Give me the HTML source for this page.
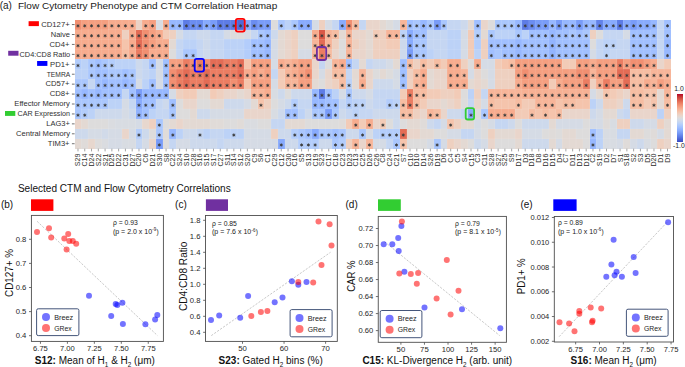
<!DOCTYPE html>
<html><head><meta charset="utf-8"><style>html,body{margin:0;padding:0;background:#fff;width:685px;height:367px;overflow:hidden}svg{display:block}</style></head>
<body><svg width="685" height="367" viewBox="0 0 685 367" font-family="Liberation Sans, sans-serif"><rect width="685" height="367" fill="#fff"/><text x="-0.3" y="9.1" font-size="10" fill="#1a1a1a">(a)</text><text x="18" y="9.1" font-size="9.8" textLength="259.2" lengthAdjust="spacingAndGlyphs" fill="#1a1a1a">Flow Cytometry Phenotype and CTM Correlation Heatmap</text><g shape-rendering="crispEdges"><rect x="74.60" y="19.60" width="6.83" height="9.98" fill="#f18f71"/><rect x="81.38" y="19.60" width="6.83" height="9.98" fill="#f59f80"/><rect x="88.15" y="19.60" width="6.83" height="9.98" fill="#f59f80"/><rect x="94.93" y="19.60" width="6.83" height="9.98" fill="#f59f80"/><rect x="101.70" y="19.60" width="6.83" height="9.98" fill="#f59f80"/><rect x="108.48" y="19.60" width="6.83" height="9.98" fill="#f7ac8e"/><rect x="115.26" y="19.60" width="6.83" height="9.98" fill="#f7ac8e"/><rect x="122.03" y="19.60" width="6.83" height="9.98" fill="#f7ac8e"/><rect x="128.81" y="19.60" width="6.83" height="9.98" fill="#f7ac8e"/><rect x="135.59" y="19.60" width="6.83" height="9.98" fill="#ebd3c6"/><rect x="142.36" y="19.60" width="6.83" height="9.98" fill="#f7ac8e"/><rect x="149.14" y="19.60" width="6.83" height="9.98" fill="#f59f80"/><rect x="155.91" y="19.60" width="6.83" height="9.98" fill="#d8dce2"/><rect x="162.69" y="19.60" width="6.83" height="9.98" fill="#f7ac8e"/><rect x="169.47" y="19.60" width="6.83" height="9.98" fill="#97b8ff"/><rect x="176.24" y="19.60" width="6.83" height="9.98" fill="#97b8ff"/><rect x="183.02" y="19.60" width="6.83" height="9.98" fill="#5d7ce6"/><rect x="189.79" y="19.60" width="6.83" height="9.98" fill="#6b8df0"/><rect x="196.57" y="19.60" width="6.83" height="9.98" fill="#6b8df0"/><rect x="203.35" y="19.60" width="6.83" height="9.98" fill="#88abfd"/><rect x="210.12" y="19.60" width="6.83" height="9.98" fill="#799cf8"/><rect x="216.90" y="19.60" width="6.83" height="9.98" fill="#5d7ce6"/><rect x="223.67" y="19.60" width="6.83" height="9.98" fill="#5d7ce6"/><rect x="230.45" y="19.60" width="6.83" height="9.98" fill="#5d7ce6"/><rect x="237.23" y="19.60" width="6.83" height="9.98" fill="#4f69d9"/><rect x="244.00" y="19.60" width="6.83" height="9.98" fill="#88abfd"/><rect x="250.78" y="19.60" width="6.83" height="9.98" fill="#6b8df0"/><rect x="257.56" y="19.60" width="6.83" height="9.98" fill="#799cf8"/><rect x="264.33" y="19.60" width="6.83" height="9.98" fill="#799cf8"/><rect x="271.11" y="19.60" width="6.83" height="9.98" fill="#dddcdc"/><rect x="277.88" y="19.60" width="6.83" height="9.98" fill="#aac7fd"/><rect x="284.66" y="19.60" width="6.83" height="9.98" fill="#bcd2f7"/><rect x="291.44" y="19.60" width="6.83" height="9.98" fill="#aac7fd"/><rect x="298.21" y="19.60" width="6.83" height="9.98" fill="#88abfd"/><rect x="304.99" y="19.60" width="6.83" height="9.98" fill="#88abfd"/><rect x="311.76" y="19.60" width="6.83" height="9.98" fill="#d5dbe5"/><rect x="318.54" y="19.60" width="6.83" height="9.98" fill="#eed0c0"/><rect x="325.32" y="19.60" width="6.83" height="9.98" fill="#d5dbe5"/><rect x="332.09" y="19.60" width="6.83" height="9.98" fill="#c5d6f2"/><rect x="338.87" y="19.60" width="6.83" height="9.98" fill="#88abfd"/><rect x="345.65" y="19.60" width="6.83" height="9.98" fill="#f18f71"/><rect x="352.42" y="19.60" width="6.83" height="9.98" fill="#f6bda2"/><rect x="359.20" y="19.60" width="6.83" height="9.98" fill="#c5d6f2"/><rect x="365.97" y="19.60" width="6.83" height="9.98" fill="#e9d5cb"/><rect x="372.75" y="19.60" width="6.83" height="9.98" fill="#e9d5cb"/><rect x="379.53" y="19.60" width="6.83" height="9.98" fill="#e3d9d3"/><rect x="386.30" y="19.60" width="6.83" height="9.98" fill="#dddcdc"/><rect x="393.08" y="19.60" width="6.83" height="9.98" fill="#d5dbe5"/><rect x="399.85" y="19.60" width="6.83" height="9.98" fill="#f7b599"/><rect x="406.63" y="19.60" width="6.83" height="9.98" fill="#a1c0ff"/><rect x="413.41" y="19.60" width="6.83" height="9.98" fill="#aac7fd"/><rect x="420.18" y="19.60" width="6.83" height="9.98" fill="#97b8ff"/><rect x="426.96" y="19.60" width="6.83" height="9.98" fill="#aac7fd"/><rect x="433.74" y="19.60" width="6.83" height="9.98" fill="#799cf8"/><rect x="440.51" y="19.60" width="6.83" height="9.98" fill="#aac7fd"/><rect x="447.29" y="19.60" width="6.83" height="9.98" fill="#c5d6f2"/><rect x="454.06" y="19.60" width="6.83" height="9.98" fill="#c5d6f2"/><rect x="460.84" y="19.60" width="6.83" height="9.98" fill="#cdd9ec"/><rect x="467.62" y="19.60" width="6.83" height="9.98" fill="#e3d9d3"/><rect x="474.39" y="19.60" width="6.83" height="9.98" fill="#a1c0ff"/><rect x="481.17" y="19.60" width="6.83" height="9.98" fill="#e9d5cb"/><rect x="487.94" y="19.60" width="6.83" height="9.98" fill="#dddcdc"/><rect x="494.72" y="19.60" width="6.83" height="9.98" fill="#aac7fd"/><rect x="501.50" y="19.60" width="6.83" height="9.98" fill="#aac7fd"/><rect x="508.27" y="19.60" width="6.83" height="9.98" fill="#aac7fd"/><rect x="515.05" y="19.60" width="6.83" height="9.98" fill="#97b8ff"/><rect x="521.82" y="19.60" width="6.83" height="9.98" fill="#5d7ce6"/><rect x="528.60" y="19.60" width="6.83" height="9.98" fill="#6b8df0"/><rect x="535.38" y="19.60" width="6.83" height="9.98" fill="#799cf8"/><rect x="542.15" y="19.60" width="6.83" height="9.98" fill="#799cf8"/><rect x="548.93" y="19.60" width="6.83" height="9.98" fill="#97b8ff"/><rect x="555.71" y="19.60" width="6.83" height="9.98" fill="#799cf8"/><rect x="562.48" y="19.60" width="6.83" height="9.98" fill="#97b8ff"/><rect x="569.26" y="19.60" width="6.83" height="9.98" fill="#97b8ff"/><rect x="576.03" y="19.60" width="6.83" height="9.98" fill="#799cf8"/><rect x="582.81" y="19.60" width="6.83" height="9.98" fill="#97b8ff"/><rect x="589.59" y="19.60" width="6.83" height="9.98" fill="#97b8ff"/><rect x="596.36" y="19.60" width="6.83" height="9.98" fill="#6282ea"/><rect x="603.14" y="19.60" width="6.83" height="9.98" fill="#88abfd"/><rect x="609.91" y="19.60" width="6.83" height="9.98" fill="#88abfd"/><rect x="616.69" y="19.60" width="6.83" height="9.98" fill="#5d7ce6"/><rect x="623.47" y="19.60" width="6.83" height="9.98" fill="#88abfd"/><rect x="630.24" y="19.60" width="6.83" height="9.98" fill="#799cf8"/><rect x="637.02" y="19.60" width="6.83" height="9.98" fill="#88abfd"/><rect x="643.80" y="19.60" width="6.83" height="9.98" fill="#88abfd"/><rect x="650.57" y="19.60" width="6.83" height="9.98" fill="#97b8ff"/><rect x="657.35" y="19.60" width="6.83" height="9.98" fill="#c5d6f2"/><rect x="664.12" y="19.60" width="6.83" height="9.98" fill="#a1c0ff"/><rect x="74.60" y="29.53" width="6.83" height="9.98" fill="#f7ac8e"/><rect x="81.38" y="29.53" width="6.83" height="9.98" fill="#f7ac8e"/><rect x="88.15" y="29.53" width="6.83" height="9.98" fill="#f7ac8e"/><rect x="94.93" y="29.53" width="6.83" height="9.98" fill="#f7ac8e"/><rect x="101.70" y="29.53" width="6.83" height="9.98" fill="#f7ac8e"/><rect x="108.48" y="29.53" width="6.83" height="9.98" fill="#f7ac8e"/><rect x="115.26" y="29.53" width="6.83" height="9.98" fill="#f7ac8e"/><rect x="122.03" y="29.53" width="6.83" height="9.98" fill="#eed0c0"/><rect x="128.81" y="29.53" width="6.83" height="9.98" fill="#f7ac8e"/><rect x="135.59" y="29.53" width="6.83" height="9.98" fill="#e36c55"/><rect x="142.36" y="29.53" width="6.83" height="9.98" fill="#f18f71"/><rect x="149.14" y="29.53" width="6.83" height="9.98" fill="#f59f80"/><rect x="155.91" y="29.53" width="6.83" height="9.98" fill="#f7ac8e"/><rect x="162.69" y="29.53" width="6.83" height="9.98" fill="#f2cbb7"/><rect x="169.47" y="29.53" width="6.83" height="9.98" fill="#eed0c0"/><rect x="176.24" y="29.53" width="6.83" height="9.98" fill="#d5dbe5"/><rect x="183.02" y="29.53" width="6.83" height="9.98" fill="#c5d6f2"/><rect x="189.79" y="29.53" width="6.83" height="9.98" fill="#c5d6f2"/><rect x="196.57" y="29.53" width="6.83" height="9.98" fill="#cdd9ec"/><rect x="203.35" y="29.53" width="6.83" height="9.98" fill="#cdd9ec"/><rect x="210.12" y="29.53" width="6.83" height="9.98" fill="#c5d6f2"/><rect x="216.90" y="29.53" width="6.83" height="9.98" fill="#c5d6f2"/><rect x="223.67" y="29.53" width="6.83" height="9.98" fill="#d5dbe5"/><rect x="230.45" y="29.53" width="6.83" height="9.98" fill="#dddcdc"/><rect x="237.23" y="29.53" width="6.83" height="9.98" fill="#dddcdc"/><rect x="244.00" y="29.53" width="6.83" height="9.98" fill="#d5dbe5"/><rect x="250.78" y="29.53" width="6.83" height="9.98" fill="#c5d6f2"/><rect x="257.56" y="29.53" width="6.83" height="9.98" fill="#aac7fd"/><rect x="264.33" y="29.53" width="6.83" height="9.98" fill="#a1c0ff"/><rect x="271.11" y="29.53" width="6.83" height="9.98" fill="#cdd9ec"/><rect x="277.88" y="29.53" width="6.83" height="9.98" fill="#e3d9d3"/><rect x="284.66" y="29.53" width="6.83" height="9.98" fill="#e9d5cb"/><rect x="291.44" y="29.53" width="6.83" height="9.98" fill="#eed0c0"/><rect x="298.21" y="29.53" width="6.83" height="9.98" fill="#dddcdc"/><rect x="304.99" y="29.53" width="6.83" height="9.98" fill="#dddcdc"/><rect x="311.76" y="29.53" width="6.83" height="9.98" fill="#f7ac8e"/><rect x="318.54" y="29.53" width="6.83" height="9.98" fill="#d95847"/><rect x="325.32" y="29.53" width="6.83" height="9.98" fill="#f7b599"/><rect x="332.09" y="29.53" width="6.83" height="9.98" fill="#f6bda2"/><rect x="338.87" y="29.53" width="6.83" height="9.98" fill="#e3d9d3"/><rect x="345.65" y="29.53" width="6.83" height="9.98" fill="#f7b599"/><rect x="352.42" y="29.53" width="6.83" height="9.98" fill="#e9d5cb"/><rect x="359.20" y="29.53" width="6.83" height="9.98" fill="#e9d5cb"/><rect x="365.97" y="29.53" width="6.83" height="9.98" fill="#e3d9d3"/><rect x="372.75" y="29.53" width="6.83" height="9.98" fill="#f2cbb7"/><rect x="379.53" y="29.53" width="6.83" height="9.98" fill="#eed0c0"/><rect x="386.30" y="29.53" width="6.83" height="9.98" fill="#f7b599"/><rect x="393.08" y="29.53" width="6.83" height="9.98" fill="#f7b599"/><rect x="399.85" y="29.53" width="6.83" height="9.98" fill="#bcd2f7"/><rect x="406.63" y="29.53" width="6.83" height="9.98" fill="#88abfd"/><rect x="413.41" y="29.53" width="6.83" height="9.98" fill="#a1c0ff"/><rect x="420.18" y="29.53" width="6.83" height="9.98" fill="#a1c0ff"/><rect x="426.96" y="29.53" width="6.83" height="9.98" fill="#c5d6f2"/><rect x="433.74" y="29.53" width="6.83" height="9.98" fill="#c5d6f2"/><rect x="440.51" y="29.53" width="6.83" height="9.98" fill="#c5d6f2"/><rect x="447.29" y="29.53" width="6.83" height="9.98" fill="#bcd2f7"/><rect x="454.06" y="29.53" width="6.83" height="9.98" fill="#bcd2f7"/><rect x="460.84" y="29.53" width="6.83" height="9.98" fill="#d5dbe5"/><rect x="467.62" y="29.53" width="6.83" height="9.98" fill="#f2cbb7"/><rect x="474.39" y="29.53" width="6.83" height="9.98" fill="#b3cdfb"/><rect x="481.17" y="29.53" width="6.83" height="9.98" fill="#e3d9d3"/><rect x="487.94" y="29.53" width="6.83" height="9.98" fill="#aac7fd"/><rect x="494.72" y="29.53" width="6.83" height="9.98" fill="#bcd2f7"/><rect x="501.50" y="29.53" width="6.83" height="9.98" fill="#bcd2f7"/><rect x="508.27" y="29.53" width="6.83" height="9.98" fill="#bcd2f7"/><rect x="515.05" y="29.53" width="6.83" height="9.98" fill="#aac7fd"/><rect x="521.82" y="29.53" width="6.83" height="9.98" fill="#bcd2f7"/><rect x="528.60" y="29.53" width="6.83" height="9.98" fill="#a1c0ff"/><rect x="535.38" y="29.53" width="6.83" height="9.98" fill="#a1c0ff"/><rect x="542.15" y="29.53" width="6.83" height="9.98" fill="#a1c0ff"/><rect x="548.93" y="29.53" width="6.83" height="9.98" fill="#97b8ff"/><rect x="555.71" y="29.53" width="6.83" height="9.98" fill="#a1c0ff"/><rect x="562.48" y="29.53" width="6.83" height="9.98" fill="#a1c0ff"/><rect x="569.26" y="29.53" width="6.83" height="9.98" fill="#aac7fd"/><rect x="576.03" y="29.53" width="6.83" height="9.98" fill="#a1c0ff"/><rect x="582.81" y="29.53" width="6.83" height="9.98" fill="#aac7fd"/><rect x="589.59" y="29.53" width="6.83" height="9.98" fill="#eed0c0"/><rect x="596.36" y="29.53" width="6.83" height="9.98" fill="#dddcdc"/><rect x="603.14" y="29.53" width="6.83" height="9.98" fill="#c5d6f2"/><rect x="609.91" y="29.53" width="6.83" height="9.98" fill="#c5d6f2"/><rect x="616.69" y="29.53" width="6.83" height="9.98" fill="#c5d6f2"/><rect x="623.47" y="29.53" width="6.83" height="9.98" fill="#d5dbe5"/><rect x="630.24" y="29.53" width="6.83" height="9.98" fill="#a1c0ff"/><rect x="637.02" y="29.53" width="6.83" height="9.98" fill="#a1c0ff"/><rect x="643.80" y="29.53" width="6.83" height="9.98" fill="#a1c0ff"/><rect x="650.57" y="29.53" width="6.83" height="9.98" fill="#a1c0ff"/><rect x="657.35" y="29.53" width="6.83" height="9.98" fill="#c5d6f2"/><rect x="664.12" y="29.53" width="6.83" height="9.98" fill="#a1c0ff"/><rect x="74.60" y="39.46" width="6.83" height="9.98" fill="#f7ac8e"/><rect x="81.38" y="39.46" width="6.83" height="9.98" fill="#f7ac8e"/><rect x="88.15" y="39.46" width="6.83" height="9.98" fill="#f7ac8e"/><rect x="94.93" y="39.46" width="6.83" height="9.98" fill="#f7ac8e"/><rect x="101.70" y="39.46" width="6.83" height="9.98" fill="#f7ac8e"/><rect x="108.48" y="39.46" width="6.83" height="9.98" fill="#f7ac8e"/><rect x="115.26" y="39.46" width="6.83" height="9.98" fill="#f7ac8e"/><rect x="122.03" y="39.46" width="6.83" height="9.98" fill="#f5c4ac"/><rect x="128.81" y="39.46" width="6.83" height="9.98" fill="#f7ac8e"/><rect x="135.59" y="39.46" width="6.83" height="9.98" fill="#e36c55"/><rect x="142.36" y="39.46" width="6.83" height="9.98" fill="#f18f71"/><rect x="149.14" y="39.46" width="6.83" height="9.98" fill="#f59f80"/><rect x="155.91" y="39.46" width="6.83" height="9.98" fill="#f7ac8e"/><rect x="162.69" y="39.46" width="6.83" height="9.98" fill="#f7ac8e"/><rect x="169.47" y="39.46" width="6.83" height="9.98" fill="#e3d9d3"/><rect x="176.24" y="39.46" width="6.83" height="9.98" fill="#c5d6f2"/><rect x="183.02" y="39.46" width="6.83" height="9.98" fill="#bcd2f7"/><rect x="189.79" y="39.46" width="6.83" height="9.98" fill="#bcd2f7"/><rect x="196.57" y="39.46" width="6.83" height="9.98" fill="#c5d6f2"/><rect x="203.35" y="39.46" width="6.83" height="9.98" fill="#cdd9ec"/><rect x="210.12" y="39.46" width="6.83" height="9.98" fill="#c5d6f2"/><rect x="216.90" y="39.46" width="6.83" height="9.98" fill="#c5d6f2"/><rect x="223.67" y="39.46" width="6.83" height="9.98" fill="#bcd2f7"/><rect x="230.45" y="39.46" width="6.83" height="9.98" fill="#bcd2f7"/><rect x="237.23" y="39.46" width="6.83" height="9.98" fill="#bcd2f7"/><rect x="244.00" y="39.46" width="6.83" height="9.98" fill="#b3cdfb"/><rect x="250.78" y="39.46" width="6.83" height="9.98" fill="#a1c0ff"/><rect x="257.56" y="39.46" width="6.83" height="9.98" fill="#a1c0ff"/><rect x="264.33" y="39.46" width="6.83" height="9.98" fill="#97b8ff"/><rect x="271.11" y="39.46" width="6.83" height="9.98" fill="#d5dbe5"/><rect x="277.88" y="39.46" width="6.83" height="9.98" fill="#e3d9d3"/><rect x="284.66" y="39.46" width="6.83" height="9.98" fill="#e9d5cb"/><rect x="291.44" y="39.46" width="6.83" height="9.98" fill="#eed0c0"/><rect x="298.21" y="39.46" width="6.83" height="9.98" fill="#dddcdc"/><rect x="304.99" y="39.46" width="6.83" height="9.98" fill="#dddcdc"/><rect x="311.76" y="39.46" width="6.83" height="9.98" fill="#f7b599"/><rect x="318.54" y="39.46" width="6.83" height="9.98" fill="#e36c55"/><rect x="325.32" y="39.46" width="6.83" height="9.98" fill="#f7b599"/><rect x="332.09" y="39.46" width="6.83" height="9.98" fill="#eed0c0"/><rect x="338.87" y="39.46" width="6.83" height="9.98" fill="#dddcdc"/><rect x="345.65" y="39.46" width="6.83" height="9.98" fill="#f7b599"/><rect x="352.42" y="39.46" width="6.83" height="9.98" fill="#eed0c0"/><rect x="359.20" y="39.46" width="6.83" height="9.98" fill="#e9d5cb"/><rect x="365.97" y="39.46" width="6.83" height="9.98" fill="#e3d9d3"/><rect x="372.75" y="39.46" width="6.83" height="9.98" fill="#eed0c0"/><rect x="379.53" y="39.46" width="6.83" height="9.98" fill="#eed0c0"/><rect x="386.30" y="39.46" width="6.83" height="9.98" fill="#f2cbb7"/><rect x="393.08" y="39.46" width="6.83" height="9.98" fill="#f2cbb7"/><rect x="399.85" y="39.46" width="6.83" height="9.98" fill="#cdd9ec"/><rect x="406.63" y="39.46" width="6.83" height="9.98" fill="#88abfd"/><rect x="413.41" y="39.46" width="6.83" height="9.98" fill="#aac7fd"/><rect x="420.18" y="39.46" width="6.83" height="9.98" fill="#aac7fd"/><rect x="426.96" y="39.46" width="6.83" height="9.98" fill="#c5d6f2"/><rect x="433.74" y="39.46" width="6.83" height="9.98" fill="#c5d6f2"/><rect x="440.51" y="39.46" width="6.83" height="9.98" fill="#c5d6f2"/><rect x="447.29" y="39.46" width="6.83" height="9.98" fill="#bcd2f7"/><rect x="454.06" y="39.46" width="6.83" height="9.98" fill="#bcd2f7"/><rect x="460.84" y="39.46" width="6.83" height="9.98" fill="#d5dbe5"/><rect x="467.62" y="39.46" width="6.83" height="9.98" fill="#f2cbb7"/><rect x="474.39" y="39.46" width="6.83" height="9.98" fill="#b3cdfb"/><rect x="481.17" y="39.46" width="6.83" height="9.98" fill="#eed0c0"/><rect x="487.94" y="39.46" width="6.83" height="9.98" fill="#a1c0ff"/><rect x="494.72" y="39.46" width="6.83" height="9.98" fill="#a1c0ff"/><rect x="501.50" y="39.46" width="6.83" height="9.98" fill="#a1c0ff"/><rect x="508.27" y="39.46" width="6.83" height="9.98" fill="#a1c0ff"/><rect x="515.05" y="39.46" width="6.83" height="9.98" fill="#97b8ff"/><rect x="521.82" y="39.46" width="6.83" height="9.98" fill="#a1c0ff"/><rect x="528.60" y="39.46" width="6.83" height="9.98" fill="#a1c0ff"/><rect x="535.38" y="39.46" width="6.83" height="9.98" fill="#a1c0ff"/><rect x="542.15" y="39.46" width="6.83" height="9.98" fill="#a1c0ff"/><rect x="548.93" y="39.46" width="6.83" height="9.98" fill="#92b4fe"/><rect x="555.71" y="39.46" width="6.83" height="9.98" fill="#a1c0ff"/><rect x="562.48" y="39.46" width="6.83" height="9.98" fill="#a1c0ff"/><rect x="569.26" y="39.46" width="6.83" height="9.98" fill="#a1c0ff"/><rect x="576.03" y="39.46" width="6.83" height="9.98" fill="#a1c0ff"/><rect x="582.81" y="39.46" width="6.83" height="9.98" fill="#a1c0ff"/><rect x="589.59" y="39.46" width="6.83" height="9.98" fill="#dddcdc"/><rect x="596.36" y="39.46" width="6.83" height="9.98" fill="#c5d6f2"/><rect x="603.14" y="39.46" width="6.83" height="9.98" fill="#bcd2f7"/><rect x="609.91" y="39.46" width="6.83" height="9.98" fill="#bcd2f7"/><rect x="616.69" y="39.46" width="6.83" height="9.98" fill="#c5d6f2"/><rect x="623.47" y="39.46" width="6.83" height="9.98" fill="#c5d6f2"/><rect x="630.24" y="39.46" width="6.83" height="9.98" fill="#a1c0ff"/><rect x="637.02" y="39.46" width="6.83" height="9.98" fill="#a1c0ff"/><rect x="643.80" y="39.46" width="6.83" height="9.98" fill="#a1c0ff"/><rect x="650.57" y="39.46" width="6.83" height="9.98" fill="#a1c0ff"/><rect x="657.35" y="39.46" width="6.83" height="9.98" fill="#c5d6f2"/><rect x="664.12" y="39.46" width="6.83" height="9.98" fill="#97b8ff"/><rect x="74.60" y="49.39" width="6.83" height="9.98" fill="#f7ac8e"/><rect x="81.38" y="49.39" width="6.83" height="9.98" fill="#f7ac8e"/><rect x="88.15" y="49.39" width="6.83" height="9.98" fill="#f7ac8e"/><rect x="94.93" y="49.39" width="6.83" height="9.98" fill="#f7ac8e"/><rect x="101.70" y="49.39" width="6.83" height="9.98" fill="#f7ac8e"/><rect x="108.48" y="49.39" width="6.83" height="9.98" fill="#f7ac8e"/><rect x="115.26" y="49.39" width="6.83" height="9.98" fill="#f7ac8e"/><rect x="122.03" y="49.39" width="6.83" height="9.98" fill="#f6bda2"/><rect x="128.81" y="49.39" width="6.83" height="9.98" fill="#f7ac8e"/><rect x="135.59" y="49.39" width="6.83" height="9.98" fill="#eb7d62"/><rect x="142.36" y="49.39" width="6.83" height="9.98" fill="#f18f71"/><rect x="149.14" y="49.39" width="6.83" height="9.98" fill="#f7ac8e"/><rect x="155.91" y="49.39" width="6.83" height="9.98" fill="#f7ac8e"/><rect x="162.69" y="49.39" width="6.83" height="9.98" fill="#f7ac8e"/><rect x="169.47" y="49.39" width="6.83" height="9.98" fill="#dddcdc"/><rect x="176.24" y="49.39" width="6.83" height="9.98" fill="#c5d6f2"/><rect x="183.02" y="49.39" width="6.83" height="9.98" fill="#aac7fd"/><rect x="189.79" y="49.39" width="6.83" height="9.98" fill="#aac7fd"/><rect x="196.57" y="49.39" width="6.83" height="9.98" fill="#c5d6f2"/><rect x="203.35" y="49.39" width="6.83" height="9.98" fill="#cdd9ec"/><rect x="210.12" y="49.39" width="6.83" height="9.98" fill="#c5d6f2"/><rect x="216.90" y="49.39" width="6.83" height="9.98" fill="#c5d6f2"/><rect x="223.67" y="49.39" width="6.83" height="9.98" fill="#bcd2f7"/><rect x="230.45" y="49.39" width="6.83" height="9.98" fill="#bcd2f7"/><rect x="237.23" y="49.39" width="6.83" height="9.98" fill="#bcd2f7"/><rect x="244.00" y="49.39" width="6.83" height="9.98" fill="#b3cdfb"/><rect x="250.78" y="49.39" width="6.83" height="9.98" fill="#a1c0ff"/><rect x="257.56" y="49.39" width="6.83" height="9.98" fill="#a1c0ff"/><rect x="264.33" y="49.39" width="6.83" height="9.98" fill="#97b8ff"/><rect x="271.11" y="49.39" width="6.83" height="9.98" fill="#d5dbe5"/><rect x="277.88" y="49.39" width="6.83" height="9.98" fill="#e3d9d3"/><rect x="284.66" y="49.39" width="6.83" height="9.98" fill="#e9d5cb"/><rect x="291.44" y="49.39" width="6.83" height="9.98" fill="#eed0c0"/><rect x="298.21" y="49.39" width="6.83" height="9.98" fill="#d5dbe5"/><rect x="304.99" y="49.39" width="6.83" height="9.98" fill="#d5dbe5"/><rect x="311.76" y="49.39" width="6.83" height="9.98" fill="#f7b599"/><rect x="318.54" y="49.39" width="6.83" height="9.98" fill="#eb7d62"/><rect x="325.32" y="49.39" width="6.83" height="9.98" fill="#f6bda2"/><rect x="332.09" y="49.39" width="6.83" height="9.98" fill="#e9d5cb"/><rect x="338.87" y="49.39" width="6.83" height="9.98" fill="#dddcdc"/><rect x="345.65" y="49.39" width="6.83" height="9.98" fill="#f7b599"/><rect x="352.42" y="49.39" width="6.83" height="9.98" fill="#e9d5cb"/><rect x="359.20" y="49.39" width="6.83" height="9.98" fill="#e9d5cb"/><rect x="365.97" y="49.39" width="6.83" height="9.98" fill="#e3d9d3"/><rect x="372.75" y="49.39" width="6.83" height="9.98" fill="#eed0c0"/><rect x="379.53" y="49.39" width="6.83" height="9.98" fill="#eed0c0"/><rect x="386.30" y="49.39" width="6.83" height="9.98" fill="#eed0c0"/><rect x="393.08" y="49.39" width="6.83" height="9.98" fill="#eed0c0"/><rect x="399.85" y="49.39" width="6.83" height="9.98" fill="#cdd9ec"/><rect x="406.63" y="49.39" width="6.83" height="9.98" fill="#799cf8"/><rect x="413.41" y="49.39" width="6.83" height="9.98" fill="#aac7fd"/><rect x="420.18" y="49.39" width="6.83" height="9.98" fill="#aac7fd"/><rect x="426.96" y="49.39" width="6.83" height="9.98" fill="#bcd2f7"/><rect x="433.74" y="49.39" width="6.83" height="9.98" fill="#c5d6f2"/><rect x="440.51" y="49.39" width="6.83" height="9.98" fill="#c5d6f2"/><rect x="447.29" y="49.39" width="6.83" height="9.98" fill="#bcd2f7"/><rect x="454.06" y="49.39" width="6.83" height="9.98" fill="#bcd2f7"/><rect x="460.84" y="49.39" width="6.83" height="9.98" fill="#d5dbe5"/><rect x="467.62" y="49.39" width="6.83" height="9.98" fill="#f2cbb7"/><rect x="474.39" y="49.39" width="6.83" height="9.98" fill="#bcd2f7"/><rect x="481.17" y="49.39" width="6.83" height="9.98" fill="#eed0c0"/><rect x="487.94" y="49.39" width="6.83" height="9.98" fill="#a1c0ff"/><rect x="494.72" y="49.39" width="6.83" height="9.98" fill="#aac7fd"/><rect x="501.50" y="49.39" width="6.83" height="9.98" fill="#a1c0ff"/><rect x="508.27" y="49.39" width="6.83" height="9.98" fill="#a1c0ff"/><rect x="515.05" y="49.39" width="6.83" height="9.98" fill="#97b8ff"/><rect x="521.82" y="49.39" width="6.83" height="9.98" fill="#a1c0ff"/><rect x="528.60" y="49.39" width="6.83" height="9.98" fill="#a1c0ff"/><rect x="535.38" y="49.39" width="6.83" height="9.98" fill="#a1c0ff"/><rect x="542.15" y="49.39" width="6.83" height="9.98" fill="#a1c0ff"/><rect x="548.93" y="49.39" width="6.83" height="9.98" fill="#92b4fe"/><rect x="555.71" y="49.39" width="6.83" height="9.98" fill="#a1c0ff"/><rect x="562.48" y="49.39" width="6.83" height="9.98" fill="#a1c0ff"/><rect x="569.26" y="49.39" width="6.83" height="9.98" fill="#a1c0ff"/><rect x="576.03" y="49.39" width="6.83" height="9.98" fill="#a1c0ff"/><rect x="582.81" y="49.39" width="6.83" height="9.98" fill="#a1c0ff"/><rect x="589.59" y="49.39" width="6.83" height="9.98" fill="#d5dbe5"/><rect x="596.36" y="49.39" width="6.83" height="9.98" fill="#c5d6f2"/><rect x="603.14" y="49.39" width="6.83" height="9.98" fill="#bcd2f7"/><rect x="609.91" y="49.39" width="6.83" height="9.98" fill="#c5d6f2"/><rect x="616.69" y="49.39" width="6.83" height="9.98" fill="#c5d6f2"/><rect x="623.47" y="49.39" width="6.83" height="9.98" fill="#c5d6f2"/><rect x="630.24" y="49.39" width="6.83" height="9.98" fill="#a1c0ff"/><rect x="637.02" y="49.39" width="6.83" height="9.98" fill="#a1c0ff"/><rect x="643.80" y="49.39" width="6.83" height="9.98" fill="#a1c0ff"/><rect x="650.57" y="49.39" width="6.83" height="9.98" fill="#a1c0ff"/><rect x="657.35" y="49.39" width="6.83" height="9.98" fill="#c5d6f2"/><rect x="664.12" y="49.39" width="6.83" height="9.98" fill="#97b8ff"/><rect x="74.60" y="59.32" width="6.83" height="9.98" fill="#b3cdfb"/><rect x="81.38" y="59.32" width="6.83" height="9.98" fill="#bcd2f7"/><rect x="88.15" y="59.32" width="6.83" height="9.98" fill="#aac7fd"/><rect x="94.93" y="59.32" width="6.83" height="9.98" fill="#a1c0ff"/><rect x="101.70" y="59.32" width="6.83" height="9.98" fill="#aac7fd"/><rect x="108.48" y="59.32" width="6.83" height="9.98" fill="#b3cdfb"/><rect x="115.26" y="59.32" width="6.83" height="9.98" fill="#bcd2f7"/><rect x="122.03" y="59.32" width="6.83" height="9.98" fill="#bcd2f7"/><rect x="128.81" y="59.32" width="6.83" height="9.98" fill="#bcd2f7"/><rect x="135.59" y="59.32" width="6.83" height="9.98" fill="#cdd9ec"/><rect x="142.36" y="59.32" width="6.83" height="9.98" fill="#c5d6f2"/><rect x="149.14" y="59.32" width="6.83" height="9.98" fill="#a1c0ff"/><rect x="155.91" y="59.32" width="6.83" height="9.98" fill="#d5dbe5"/><rect x="162.69" y="59.32" width="6.83" height="9.98" fill="#a1c0ff"/><rect x="169.47" y="59.32" width="6.83" height="9.98" fill="#f59f80"/><rect x="176.24" y="59.32" width="6.83" height="9.98" fill="#f59f80"/><rect x="183.02" y="59.32" width="6.83" height="9.98" fill="#eb7d62"/><rect x="189.79" y="59.32" width="6.83" height="9.98" fill="#f18f71"/><rect x="196.57" y="59.32" width="6.83" height="9.98" fill="#eb7d62"/><rect x="203.35" y="59.32" width="6.83" height="9.98" fill="#f18f71"/><rect x="210.12" y="59.32" width="6.83" height="9.98" fill="#e36c55"/><rect x="216.90" y="59.32" width="6.83" height="9.98" fill="#e36c55"/><rect x="223.67" y="59.32" width="6.83" height="9.98" fill="#eb7d62"/><rect x="230.45" y="59.32" width="6.83" height="9.98" fill="#eb7d62"/><rect x="237.23" y="59.32" width="6.83" height="9.98" fill="#e36c55"/><rect x="244.00" y="59.32" width="6.83" height="9.98" fill="#f5c4ac"/><rect x="250.78" y="59.32" width="6.83" height="9.98" fill="#f59f80"/><rect x="257.56" y="59.32" width="6.83" height="9.98" fill="#f59f80"/><rect x="264.33" y="59.32" width="6.83" height="9.98" fill="#f59f80"/><rect x="271.11" y="59.32" width="6.83" height="9.98" fill="#d5dbe5"/><rect x="277.88" y="59.32" width="6.83" height="9.98" fill="#f7ac8e"/><rect x="284.66" y="59.32" width="6.83" height="9.98" fill="#f7b599"/><rect x="291.44" y="59.32" width="6.83" height="9.98" fill="#f7ac8e"/><rect x="298.21" y="59.32" width="6.83" height="9.98" fill="#f59f80"/><rect x="304.99" y="59.32" width="6.83" height="9.98" fill="#f59f80"/><rect x="311.76" y="59.32" width="6.83" height="9.98" fill="#e9d5cb"/><rect x="318.54" y="59.32" width="6.83" height="9.98" fill="#c5d6f2"/><rect x="325.32" y="59.32" width="6.83" height="9.98" fill="#dddcdc"/><rect x="332.09" y="59.32" width="6.83" height="9.98" fill="#f7b599"/><rect x="338.87" y="59.32" width="6.83" height="9.98" fill="#f7ac8e"/><rect x="345.65" y="59.32" width="6.83" height="9.98" fill="#a1c0ff"/><rect x="352.42" y="59.32" width="6.83" height="9.98" fill="#c5d6f2"/><rect x="359.20" y="59.32" width="6.83" height="9.98" fill="#e3d9d3"/><rect x="365.97" y="59.32" width="6.83" height="9.98" fill="#c5d6f2"/><rect x="372.75" y="59.32" width="6.83" height="9.98" fill="#cdd9ec"/><rect x="379.53" y="59.32" width="6.83" height="9.98" fill="#cdd9ec"/><rect x="386.30" y="59.32" width="6.83" height="9.98" fill="#d5dbe5"/><rect x="393.08" y="59.32" width="6.83" height="9.98" fill="#e3d9d3"/><rect x="399.85" y="59.32" width="6.83" height="9.98" fill="#a1c0ff"/><rect x="406.63" y="59.32" width="6.83" height="9.98" fill="#f6bda2"/><rect x="413.41" y="59.32" width="6.83" height="9.98" fill="#eed0c0"/><rect x="420.18" y="59.32" width="6.83" height="9.98" fill="#f6bda2"/><rect x="426.96" y="59.32" width="6.83" height="9.98" fill="#f2cbb7"/><rect x="433.74" y="59.32" width="6.83" height="9.98" fill="#f6bda2"/><rect x="440.51" y="59.32" width="6.83" height="9.98" fill="#f2cbb7"/><rect x="447.29" y="59.32" width="6.83" height="9.98" fill="#f7ac8e"/><rect x="454.06" y="59.32" width="6.83" height="9.98" fill="#f7ac8e"/><rect x="460.84" y="59.32" width="6.83" height="9.98" fill="#eed0c0"/><rect x="467.62" y="59.32" width="6.83" height="9.98" fill="#dddcdc"/><rect x="474.39" y="59.32" width="6.83" height="9.98" fill="#f7ac8e"/><rect x="481.17" y="59.32" width="6.83" height="9.98" fill="#d5dbe5"/><rect x="487.94" y="59.32" width="6.83" height="9.98" fill="#d5dbe5"/><rect x="494.72" y="59.32" width="6.83" height="9.98" fill="#f2cbb7"/><rect x="501.50" y="59.32" width="6.83" height="9.98" fill="#f5c4ac"/><rect x="508.27" y="59.32" width="6.83" height="9.98" fill="#f6bda2"/><rect x="515.05" y="59.32" width="6.83" height="9.98" fill="#f59f80"/><rect x="521.82" y="59.32" width="6.83" height="9.98" fill="#f59f80"/><rect x="528.60" y="59.32" width="6.83" height="9.98" fill="#f59f80"/><rect x="535.38" y="59.32" width="6.83" height="9.98" fill="#f59f80"/><rect x="542.15" y="59.32" width="6.83" height="9.98" fill="#f59f80"/><rect x="548.93" y="59.32" width="6.83" height="9.98" fill="#f59f80"/><rect x="555.71" y="59.32" width="6.83" height="9.98" fill="#f59f80"/><rect x="562.48" y="59.32" width="6.83" height="9.98" fill="#f2cbb7"/><rect x="569.26" y="59.32" width="6.83" height="9.98" fill="#f2cbb7"/><rect x="576.03" y="59.32" width="6.83" height="9.98" fill="#f59f80"/><rect x="582.81" y="59.32" width="6.83" height="9.98" fill="#f59f80"/><rect x="589.59" y="59.32" width="6.83" height="9.98" fill="#f7ac8e"/><rect x="596.36" y="59.32" width="6.83" height="9.98" fill="#f59f80"/><rect x="603.14" y="59.32" width="6.83" height="9.98" fill="#f59f80"/><rect x="609.91" y="59.32" width="6.83" height="9.98" fill="#f59f80"/><rect x="616.69" y="59.32" width="6.83" height="9.98" fill="#eb7d62"/><rect x="623.47" y="59.32" width="6.83" height="9.98" fill="#f59f80"/><rect x="630.24" y="59.32" width="6.83" height="9.98" fill="#f18f71"/><rect x="637.02" y="59.32" width="6.83" height="9.98" fill="#f18f71"/><rect x="643.80" y="59.32" width="6.83" height="9.98" fill="#f59f80"/><rect x="650.57" y="59.32" width="6.83" height="9.98" fill="#f7ac8e"/><rect x="657.35" y="59.32" width="6.83" height="9.98" fill="#e9d5cb"/><rect x="664.12" y="59.32" width="6.83" height="9.98" fill="#f2cbb7"/><rect x="74.60" y="69.25" width="6.83" height="9.98" fill="#bcd2f7"/><rect x="81.38" y="69.25" width="6.83" height="9.98" fill="#bcd2f7"/><rect x="88.15" y="69.25" width="6.83" height="9.98" fill="#aac7fd"/><rect x="94.93" y="69.25" width="6.83" height="9.98" fill="#a1c0ff"/><rect x="101.70" y="69.25" width="6.83" height="9.98" fill="#a1c0ff"/><rect x="108.48" y="69.25" width="6.83" height="9.98" fill="#aac7fd"/><rect x="115.26" y="69.25" width="6.83" height="9.98" fill="#aac7fd"/><rect x="122.03" y="69.25" width="6.83" height="9.98" fill="#a1c0ff"/><rect x="128.81" y="69.25" width="6.83" height="9.98" fill="#aac7fd"/><rect x="135.59" y="69.25" width="6.83" height="9.98" fill="#cdd9ec"/><rect x="142.36" y="69.25" width="6.83" height="9.98" fill="#c5d6f2"/><rect x="149.14" y="69.25" width="6.83" height="9.98" fill="#bcd2f7"/><rect x="155.91" y="69.25" width="6.83" height="9.98" fill="#d5dbe5"/><rect x="162.69" y="69.25" width="6.83" height="9.98" fill="#a1c0ff"/><rect x="169.47" y="69.25" width="6.83" height="9.98" fill="#f18f71"/><rect x="176.24" y="69.25" width="6.83" height="9.98" fill="#eb7d62"/><rect x="183.02" y="69.25" width="6.83" height="9.98" fill="#e36c55"/><rect x="189.79" y="69.25" width="6.83" height="9.98" fill="#eb7d62"/><rect x="196.57" y="69.25" width="6.83" height="9.98" fill="#eb7d62"/><rect x="203.35" y="69.25" width="6.83" height="9.98" fill="#e36c55"/><rect x="210.12" y="69.25" width="6.83" height="9.98" fill="#eb7d62"/><rect x="216.90" y="69.25" width="6.83" height="9.98" fill="#eb7d62"/><rect x="223.67" y="69.25" width="6.83" height="9.98" fill="#eb7d62"/><rect x="230.45" y="69.25" width="6.83" height="9.98" fill="#eb7d62"/><rect x="237.23" y="69.25" width="6.83" height="9.98" fill="#e36c55"/><rect x="244.00" y="69.25" width="6.83" height="9.98" fill="#f7ac8e"/><rect x="250.78" y="69.25" width="6.83" height="9.98" fill="#f59f80"/><rect x="257.56" y="69.25" width="6.83" height="9.98" fill="#f7ac8e"/><rect x="264.33" y="69.25" width="6.83" height="9.98" fill="#f59f80"/><rect x="271.11" y="69.25" width="6.83" height="9.98" fill="#c5d6f2"/><rect x="277.88" y="69.25" width="6.83" height="9.98" fill="#f2cbb7"/><rect x="284.66" y="69.25" width="6.83" height="9.98" fill="#f7b599"/><rect x="291.44" y="69.25" width="6.83" height="9.98" fill="#f7ac8e"/><rect x="298.21" y="69.25" width="6.83" height="9.98" fill="#f59f80"/><rect x="304.99" y="69.25" width="6.83" height="9.98" fill="#f18f71"/><rect x="311.76" y="69.25" width="6.83" height="9.98" fill="#e9d5cb"/><rect x="318.54" y="69.25" width="6.83" height="9.98" fill="#d5dbe5"/><rect x="325.32" y="69.25" width="6.83" height="9.98" fill="#e9d5cb"/><rect x="332.09" y="69.25" width="6.83" height="9.98" fill="#f6bda2"/><rect x="338.87" y="69.25" width="6.83" height="9.98" fill="#f6bda2"/><rect x="345.65" y="69.25" width="6.83" height="9.98" fill="#c5d6f2"/><rect x="352.42" y="69.25" width="6.83" height="9.98" fill="#e3d9d3"/><rect x="359.20" y="69.25" width="6.83" height="9.98" fill="#f7b599"/><rect x="365.97" y="69.25" width="6.83" height="9.98" fill="#e9d5cb"/><rect x="372.75" y="69.25" width="6.83" height="9.98" fill="#dddcdc"/><rect x="379.53" y="69.25" width="6.83" height="9.98" fill="#e3d9d3"/><rect x="386.30" y="69.25" width="6.83" height="9.98" fill="#dddcdc"/><rect x="393.08" y="69.25" width="6.83" height="9.98" fill="#d5dbe5"/><rect x="399.85" y="69.25" width="6.83" height="9.98" fill="#a1c0ff"/><rect x="406.63" y="69.25" width="6.83" height="9.98" fill="#eed0c0"/><rect x="413.41" y="69.25" width="6.83" height="9.98" fill="#f6bda2"/><rect x="420.18" y="69.25" width="6.83" height="9.98" fill="#f7ac8e"/><rect x="426.96" y="69.25" width="6.83" height="9.98" fill="#e3d9d3"/><rect x="433.74" y="69.25" width="6.83" height="9.98" fill="#e9d5cb"/><rect x="440.51" y="69.25" width="6.83" height="9.98" fill="#e9d5cb"/><rect x="447.29" y="69.25" width="6.83" height="9.98" fill="#f7ac8e"/><rect x="454.06" y="69.25" width="6.83" height="9.98" fill="#f7ac8e"/><rect x="460.84" y="69.25" width="6.83" height="9.98" fill="#f7b599"/><rect x="467.62" y="69.25" width="6.83" height="9.98" fill="#d5dbe5"/><rect x="474.39" y="69.25" width="6.83" height="9.98" fill="#e9d5cb"/><rect x="481.17" y="69.25" width="6.83" height="9.98" fill="#dddcdc"/><rect x="487.94" y="69.25" width="6.83" height="9.98" fill="#d5dbe5"/><rect x="494.72" y="69.25" width="6.83" height="9.98" fill="#eed0c0"/><rect x="501.50" y="69.25" width="6.83" height="9.98" fill="#eed0c0"/><rect x="508.27" y="69.25" width="6.83" height="9.98" fill="#eed0c0"/><rect x="515.05" y="69.25" width="6.83" height="9.98" fill="#f59f80"/><rect x="521.82" y="69.25" width="6.83" height="9.98" fill="#f18f71"/><rect x="528.60" y="69.25" width="6.83" height="9.98" fill="#f59f80"/><rect x="535.38" y="69.25" width="6.83" height="9.98" fill="#f59f80"/><rect x="542.15" y="69.25" width="6.83" height="9.98" fill="#f59f80"/><rect x="548.93" y="69.25" width="6.83" height="9.98" fill="#f59f80"/><rect x="555.71" y="69.25" width="6.83" height="9.98" fill="#f59f80"/><rect x="562.48" y="69.25" width="6.83" height="9.98" fill="#f59f80"/><rect x="569.26" y="69.25" width="6.83" height="9.98" fill="#f59f80"/><rect x="576.03" y="69.25" width="6.83" height="9.98" fill="#f18f71"/><rect x="582.81" y="69.25" width="6.83" height="9.98" fill="#f18f71"/><rect x="589.59" y="69.25" width="6.83" height="9.98" fill="#f7b599"/><rect x="596.36" y="69.25" width="6.83" height="9.98" fill="#f59f80"/><rect x="603.14" y="69.25" width="6.83" height="9.98" fill="#f59f80"/><rect x="609.91" y="69.25" width="6.83" height="9.98" fill="#f59f80"/><rect x="616.69" y="69.25" width="6.83" height="9.98" fill="#e36c55"/><rect x="623.47" y="69.25" width="6.83" height="9.98" fill="#e36c55"/><rect x="630.24" y="69.25" width="6.83" height="9.98" fill="#f6bda2"/><rect x="637.02" y="69.25" width="6.83" height="9.98" fill="#f6bda2"/><rect x="643.80" y="69.25" width="6.83" height="9.98" fill="#f6bda2"/><rect x="650.57" y="69.25" width="6.83" height="9.98" fill="#f7b599"/><rect x="657.35" y="69.25" width="6.83" height="9.98" fill="#f7b599"/><rect x="664.12" y="69.25" width="6.83" height="9.98" fill="#f7b599"/><rect x="74.60" y="79.18" width="6.83" height="9.98" fill="#aac7fd"/><rect x="81.38" y="79.18" width="6.83" height="9.98" fill="#aac7fd"/><rect x="88.15" y="79.18" width="6.83" height="9.98" fill="#c5d6f2"/><rect x="94.93" y="79.18" width="6.83" height="9.98" fill="#a1c0ff"/><rect x="101.70" y="79.18" width="6.83" height="9.98" fill="#97b8ff"/><rect x="108.48" y="79.18" width="6.83" height="9.98" fill="#a1c0ff"/><rect x="115.26" y="79.18" width="6.83" height="9.98" fill="#a1c0ff"/><rect x="122.03" y="79.18" width="6.83" height="9.98" fill="#97b8ff"/><rect x="128.81" y="79.18" width="6.83" height="9.98" fill="#a1c0ff"/><rect x="135.59" y="79.18" width="6.83" height="9.98" fill="#d5dbe5"/><rect x="142.36" y="79.18" width="6.83" height="9.98" fill="#bcd2f7"/><rect x="149.14" y="79.18" width="6.83" height="9.98" fill="#a1c0ff"/><rect x="155.91" y="79.18" width="6.83" height="9.98" fill="#d5dbe5"/><rect x="162.69" y="79.18" width="6.83" height="9.98" fill="#a1c0ff"/><rect x="169.47" y="79.18" width="6.83" height="9.98" fill="#f18f71"/><rect x="176.24" y="79.18" width="6.83" height="9.98" fill="#eb7d62"/><rect x="183.02" y="79.18" width="6.83" height="9.98" fill="#e36c55"/><rect x="189.79" y="79.18" width="6.83" height="9.98" fill="#eb7d62"/><rect x="196.57" y="79.18" width="6.83" height="9.98" fill="#eb7d62"/><rect x="203.35" y="79.18" width="6.83" height="9.98" fill="#e36c55"/><rect x="210.12" y="79.18" width="6.83" height="9.98" fill="#eb7d62"/><rect x="216.90" y="79.18" width="6.83" height="9.98" fill="#eb7d62"/><rect x="223.67" y="79.18" width="6.83" height="9.98" fill="#eb7d62"/><rect x="230.45" y="79.18" width="6.83" height="9.98" fill="#f18f71"/><rect x="237.23" y="79.18" width="6.83" height="9.98" fill="#eb7d62"/><rect x="244.00" y="79.18" width="6.83" height="9.98" fill="#f5c4ac"/><rect x="250.78" y="79.18" width="6.83" height="9.98" fill="#f59f80"/><rect x="257.56" y="79.18" width="6.83" height="9.98" fill="#f59f80"/><rect x="264.33" y="79.18" width="6.83" height="9.98" fill="#f59f80"/><rect x="271.11" y="79.18" width="6.83" height="9.98" fill="#d5dbe5"/><rect x="277.88" y="79.18" width="6.83" height="9.98" fill="#f2cbb7"/><rect x="284.66" y="79.18" width="6.83" height="9.98" fill="#f7b599"/><rect x="291.44" y="79.18" width="6.83" height="9.98" fill="#f7b599"/><rect x="298.21" y="79.18" width="6.83" height="9.98" fill="#f59f80"/><rect x="304.99" y="79.18" width="6.83" height="9.98" fill="#f59f80"/><rect x="311.76" y="79.18" width="6.83" height="9.98" fill="#e3d9d3"/><rect x="318.54" y="79.18" width="6.83" height="9.98" fill="#dddcdc"/><rect x="325.32" y="79.18" width="6.83" height="9.98" fill="#e9d5cb"/><rect x="332.09" y="79.18" width="6.83" height="9.98" fill="#eed0c0"/><rect x="338.87" y="79.18" width="6.83" height="9.98" fill="#f6bda2"/><rect x="345.65" y="79.18" width="6.83" height="9.98" fill="#bcd2f7"/><rect x="352.42" y="79.18" width="6.83" height="9.98" fill="#e3d9d3"/><rect x="359.20" y="79.18" width="6.83" height="9.98" fill="#f7ac8e"/><rect x="365.97" y="79.18" width="6.83" height="9.98" fill="#e9d5cb"/><rect x="372.75" y="79.18" width="6.83" height="9.98" fill="#cdd9ec"/><rect x="379.53" y="79.18" width="6.83" height="9.98" fill="#cdd9ec"/><rect x="386.30" y="79.18" width="6.83" height="9.98" fill="#cdd9ec"/><rect x="393.08" y="79.18" width="6.83" height="9.98" fill="#d5dbe5"/><rect x="399.85" y="79.18" width="6.83" height="9.98" fill="#a1c0ff"/><rect x="406.63" y="79.18" width="6.83" height="9.98" fill="#eed0c0"/><rect x="413.41" y="79.18" width="6.83" height="9.98" fill="#f7b599"/><rect x="420.18" y="79.18" width="6.83" height="9.98" fill="#f7ac8e"/><rect x="426.96" y="79.18" width="6.83" height="9.98" fill="#e3d9d3"/><rect x="433.74" y="79.18" width="6.83" height="9.98" fill="#e9d5cb"/><rect x="440.51" y="79.18" width="6.83" height="9.98" fill="#e9d5cb"/><rect x="447.29" y="79.18" width="6.83" height="9.98" fill="#f7ac8e"/><rect x="454.06" y="79.18" width="6.83" height="9.98" fill="#f7ac8e"/><rect x="460.84" y="79.18" width="6.83" height="9.98" fill="#f7ac8e"/><rect x="467.62" y="79.18" width="6.83" height="9.98" fill="#e3d9d3"/><rect x="474.39" y="79.18" width="6.83" height="9.98" fill="#e9d5cb"/><rect x="481.17" y="79.18" width="6.83" height="9.98" fill="#e3d9d3"/><rect x="487.94" y="79.18" width="6.83" height="9.98" fill="#d5dbe5"/><rect x="494.72" y="79.18" width="6.83" height="9.98" fill="#eed0c0"/><rect x="501.50" y="79.18" width="6.83" height="9.98" fill="#eed0c0"/><rect x="508.27" y="79.18" width="6.83" height="9.98" fill="#eed0c0"/><rect x="515.05" y="79.18" width="6.83" height="9.98" fill="#f7ac8e"/><rect x="521.82" y="79.18" width="6.83" height="9.98" fill="#f59f80"/><rect x="528.60" y="79.18" width="6.83" height="9.98" fill="#f59f80"/><rect x="535.38" y="79.18" width="6.83" height="9.98" fill="#f59f80"/><rect x="542.15" y="79.18" width="6.83" height="9.98" fill="#f59f80"/><rect x="548.93" y="79.18" width="6.83" height="9.98" fill="#f2cbb7"/><rect x="555.71" y="79.18" width="6.83" height="9.98" fill="#f7ac8e"/><rect x="562.48" y="79.18" width="6.83" height="9.98" fill="#f59f80"/><rect x="569.26" y="79.18" width="6.83" height="9.98" fill="#f59f80"/><rect x="576.03" y="79.18" width="6.83" height="9.98" fill="#f59f80"/><rect x="582.81" y="79.18" width="6.83" height="9.98" fill="#eb7d62"/><rect x="589.59" y="79.18" width="6.83" height="9.98" fill="#eed0c0"/><rect x="596.36" y="79.18" width="6.83" height="9.98" fill="#f7ac8e"/><rect x="603.14" y="79.18" width="6.83" height="9.98" fill="#eb7d62"/><rect x="609.91" y="79.18" width="6.83" height="9.98" fill="#f59f80"/><rect x="616.69" y="79.18" width="6.83" height="9.98" fill="#f59f80"/><rect x="623.47" y="79.18" width="6.83" height="9.98" fill="#e36c55"/><rect x="630.24" y="79.18" width="6.83" height="9.98" fill="#f6bda2"/><rect x="637.02" y="79.18" width="6.83" height="9.98" fill="#f6bda2"/><rect x="643.80" y="79.18" width="6.83" height="9.98" fill="#f7ac8e"/><rect x="650.57" y="79.18" width="6.83" height="9.98" fill="#f7b599"/><rect x="657.35" y="79.18" width="6.83" height="9.98" fill="#f59f80"/><rect x="664.12" y="79.18" width="6.83" height="9.98" fill="#f7ac8e"/><rect x="74.60" y="89.12" width="6.83" height="9.98" fill="#a1c0ff"/><rect x="81.38" y="89.12" width="6.83" height="9.98" fill="#97b8ff"/><rect x="88.15" y="89.12" width="6.83" height="9.98" fill="#a1c0ff"/><rect x="94.93" y="89.12" width="6.83" height="9.98" fill="#97b8ff"/><rect x="101.70" y="89.12" width="6.83" height="9.98" fill="#a1c0ff"/><rect x="108.48" y="89.12" width="6.83" height="9.98" fill="#a1c0ff"/><rect x="115.26" y="89.12" width="6.83" height="9.98" fill="#a1c0ff"/><rect x="122.03" y="89.12" width="6.83" height="9.98" fill="#c5d6f2"/><rect x="128.81" y="89.12" width="6.83" height="9.98" fill="#a1c0ff"/><rect x="135.59" y="89.12" width="6.83" height="9.98" fill="#799cf8"/><rect x="142.36" y="89.12" width="6.83" height="9.98" fill="#97b8ff"/><rect x="149.14" y="89.12" width="6.83" height="9.98" fill="#97b8ff"/><rect x="155.91" y="89.12" width="6.83" height="9.98" fill="#97b8ff"/><rect x="162.69" y="89.12" width="6.83" height="9.98" fill="#97b8ff"/><rect x="169.47" y="89.12" width="6.83" height="9.98" fill="#d5dbe5"/><rect x="176.24" y="89.12" width="6.83" height="9.98" fill="#eed0c0"/><rect x="183.02" y="89.12" width="6.83" height="9.98" fill="#f2cbb7"/><rect x="189.79" y="89.12" width="6.83" height="9.98" fill="#f2cbb7"/><rect x="196.57" y="89.12" width="6.83" height="9.98" fill="#e3d9d3"/><rect x="203.35" y="89.12" width="6.83" height="9.98" fill="#e3d9d3"/><rect x="210.12" y="89.12" width="6.83" height="9.98" fill="#f2cbb7"/><rect x="216.90" y="89.12" width="6.83" height="9.98" fill="#eed0c0"/><rect x="223.67" y="89.12" width="6.83" height="9.98" fill="#e9d5cb"/><rect x="230.45" y="89.12" width="6.83" height="9.98" fill="#e9d5cb"/><rect x="237.23" y="89.12" width="6.83" height="9.98" fill="#e3d9d3"/><rect x="244.00" y="89.12" width="6.83" height="9.98" fill="#e9d5cb"/><rect x="250.78" y="89.12" width="6.83" height="9.98" fill="#f7b599"/><rect x="257.56" y="89.12" width="6.83" height="9.98" fill="#f7b599"/><rect x="264.33" y="89.12" width="6.83" height="9.98" fill="#f7ac8e"/><rect x="271.11" y="89.12" width="6.83" height="9.98" fill="#d8dce2"/><rect x="277.88" y="89.12" width="6.83" height="9.98" fill="#cdd9ec"/><rect x="284.66" y="89.12" width="6.83" height="9.98" fill="#dddcdc"/><rect x="291.44" y="89.12" width="6.83" height="9.98" fill="#cdd9ec"/><rect x="298.21" y="89.12" width="6.83" height="9.98" fill="#cdd9ec"/><rect x="304.99" y="89.12" width="6.83" height="9.98" fill="#cdd9ec"/><rect x="311.76" y="89.12" width="6.83" height="9.98" fill="#97b8ff"/><rect x="318.54" y="89.12" width="6.83" height="9.98" fill="#5d7ce6"/><rect x="325.32" y="89.12" width="6.83" height="9.98" fill="#a1c0ff"/><rect x="332.09" y="89.12" width="6.83" height="9.98" fill="#bcd2f7"/><rect x="338.87" y="89.12" width="6.83" height="9.98" fill="#d5dbe5"/><rect x="345.65" y="89.12" width="6.83" height="9.98" fill="#aac7fd"/><rect x="352.42" y="89.12" width="6.83" height="9.98" fill="#cdd9ec"/><rect x="359.20" y="89.12" width="6.83" height="9.98" fill="#cdd9ec"/><rect x="365.97" y="89.12" width="6.83" height="9.98" fill="#d5dbe5"/><rect x="372.75" y="89.12" width="6.83" height="9.98" fill="#c5d6f2"/><rect x="379.53" y="89.12" width="6.83" height="9.98" fill="#c5d6f2"/><rect x="386.30" y="89.12" width="6.83" height="9.98" fill="#c5d6f2"/><rect x="393.08" y="89.12" width="6.83" height="9.98" fill="#c5d6f2"/><rect x="399.85" y="89.12" width="6.83" height="9.98" fill="#f2cbb7"/><rect x="406.63" y="89.12" width="6.83" height="9.98" fill="#eb7d62"/><rect x="413.41" y="89.12" width="6.83" height="9.98" fill="#f6bda2"/><rect x="420.18" y="89.12" width="6.83" height="9.98" fill="#f6bda2"/><rect x="426.96" y="89.12" width="6.83" height="9.98" fill="#f2cbb7"/><rect x="433.74" y="89.12" width="6.83" height="9.98" fill="#f2cbb7"/><rect x="440.51" y="89.12" width="6.83" height="9.98" fill="#eed0c0"/><rect x="447.29" y="89.12" width="6.83" height="9.98" fill="#eed0c0"/><rect x="454.06" y="89.12" width="6.83" height="9.98" fill="#f2cbb7"/><rect x="460.84" y="89.12" width="6.83" height="9.98" fill="#dddcdc"/><rect x="467.62" y="89.12" width="6.83" height="9.98" fill="#bcd2f7"/><rect x="474.39" y="89.12" width="6.83" height="9.98" fill="#eed0c0"/><rect x="481.17" y="89.12" width="6.83" height="9.98" fill="#c5d6f2"/><rect x="487.94" y="89.12" width="6.83" height="9.98" fill="#f7b599"/><rect x="494.72" y="89.12" width="6.83" height="9.98" fill="#f7b599"/><rect x="501.50" y="89.12" width="6.83" height="9.98" fill="#f7b599"/><rect x="508.27" y="89.12" width="6.83" height="9.98" fill="#f7b599"/><rect x="515.05" y="89.12" width="6.83" height="9.98" fill="#f7b599"/><rect x="521.82" y="89.12" width="6.83" height="9.98" fill="#f7b194"/><rect x="528.60" y="89.12" width="6.83" height="9.98" fill="#f7b194"/><rect x="535.38" y="89.12" width="6.83" height="9.98" fill="#f7b194"/><rect x="542.15" y="89.12" width="6.83" height="9.98" fill="#f7b194"/><rect x="548.93" y="89.12" width="6.83" height="9.98" fill="#f7b194"/><rect x="555.71" y="89.12" width="6.83" height="9.98" fill="#f7b194"/><rect x="562.48" y="89.12" width="6.83" height="9.98" fill="#f7b194"/><rect x="569.26" y="89.12" width="6.83" height="9.98" fill="#f7b194"/><rect x="576.03" y="89.12" width="6.83" height="9.98" fill="#f7b194"/><rect x="582.81" y="89.12" width="6.83" height="9.98" fill="#f7b194"/><rect x="589.59" y="89.12" width="6.83" height="9.98" fill="#d5dbe5"/><rect x="596.36" y="89.12" width="6.83" height="9.98" fill="#e3d9d3"/><rect x="603.14" y="89.12" width="6.83" height="9.98" fill="#f5c4ac"/><rect x="609.91" y="89.12" width="6.83" height="9.98" fill="#f2cbb7"/><rect x="616.69" y="89.12" width="6.83" height="9.98" fill="#eed0c0"/><rect x="623.47" y="89.12" width="6.83" height="9.98" fill="#e9d5cb"/><rect x="630.24" y="89.12" width="6.83" height="9.98" fill="#f6bda2"/><rect x="637.02" y="89.12" width="6.83" height="9.98" fill="#f6bda2"/><rect x="643.80" y="89.12" width="6.83" height="9.98" fill="#f5c4ac"/><rect x="650.57" y="89.12" width="6.83" height="9.98" fill="#f5c4ac"/><rect x="657.35" y="89.12" width="6.83" height="9.98" fill="#e3d9d3"/><rect x="664.12" y="89.12" width="6.83" height="9.98" fill="#f7b599"/><rect x="74.60" y="99.05" width="6.83" height="9.98" fill="#aac7fd"/><rect x="81.38" y="99.05" width="6.83" height="9.98" fill="#aac7fd"/><rect x="88.15" y="99.05" width="6.83" height="9.98" fill="#aac7fd"/><rect x="94.93" y="99.05" width="6.83" height="9.98" fill="#aac7fd"/><rect x="101.70" y="99.05" width="6.83" height="9.98" fill="#aac7fd"/><rect x="108.48" y="99.05" width="6.83" height="9.98" fill="#bcd2f7"/><rect x="115.26" y="99.05" width="6.83" height="9.98" fill="#bcd2f7"/><rect x="122.03" y="99.05" width="6.83" height="9.98" fill="#d5dbe5"/><rect x="128.81" y="99.05" width="6.83" height="9.98" fill="#c5d6f2"/><rect x="135.59" y="99.05" width="6.83" height="9.98" fill="#88abfd"/><rect x="142.36" y="99.05" width="6.83" height="9.98" fill="#a1c0ff"/><rect x="149.14" y="99.05" width="6.83" height="9.98" fill="#a1c0ff"/><rect x="155.91" y="99.05" width="6.83" height="9.98" fill="#c5d6f2"/><rect x="162.69" y="99.05" width="6.83" height="9.98" fill="#cdd9ec"/><rect x="169.47" y="99.05" width="6.83" height="9.98" fill="#a1c0ff"/><rect x="176.24" y="99.05" width="6.83" height="9.98" fill="#dddcdc"/><rect x="183.02" y="99.05" width="6.83" height="9.98" fill="#e9d5cb"/><rect x="189.79" y="99.05" width="6.83" height="9.98" fill="#e9d5cb"/><rect x="196.57" y="99.05" width="6.83" height="9.98" fill="#dddcdc"/><rect x="203.35" y="99.05" width="6.83" height="9.98" fill="#dddcdc"/><rect x="210.12" y="99.05" width="6.83" height="9.98" fill="#e3d9d3"/><rect x="216.90" y="99.05" width="6.83" height="9.98" fill="#e3d9d3"/><rect x="223.67" y="99.05" width="6.83" height="9.98" fill="#cdd9ec"/><rect x="230.45" y="99.05" width="6.83" height="9.98" fill="#cdd9ec"/><rect x="237.23" y="99.05" width="6.83" height="9.98" fill="#cdd9ec"/><rect x="244.00" y="99.05" width="6.83" height="9.98" fill="#d5dbe5"/><rect x="250.78" y="99.05" width="6.83" height="9.98" fill="#e3d9d3"/><rect x="257.56" y="99.05" width="6.83" height="9.98" fill="#f5c4ac"/><rect x="264.33" y="99.05" width="6.83" height="9.98" fill="#eed0c0"/><rect x="271.11" y="99.05" width="6.83" height="9.98" fill="#dddcdc"/><rect x="277.88" y="99.05" width="6.83" height="9.98" fill="#d5dbe5"/><rect x="284.66" y="99.05" width="6.83" height="9.98" fill="#cdd9ec"/><rect x="291.44" y="99.05" width="6.83" height="9.98" fill="#b3cdfb"/><rect x="298.21" y="99.05" width="6.83" height="9.98" fill="#c5d6f2"/><rect x="304.99" y="99.05" width="6.83" height="9.98" fill="#c5d6f2"/><rect x="311.76" y="99.05" width="6.83" height="9.98" fill="#97b8ff"/><rect x="318.54" y="99.05" width="6.83" height="9.98" fill="#97b8ff"/><rect x="325.32" y="99.05" width="6.83" height="9.98" fill="#a1c0ff"/><rect x="332.09" y="99.05" width="6.83" height="9.98" fill="#a1c0ff"/><rect x="338.87" y="99.05" width="6.83" height="9.98" fill="#c5d6f2"/><rect x="345.65" y="99.05" width="6.83" height="9.98" fill="#b3cdfb"/><rect x="352.42" y="99.05" width="6.83" height="9.98" fill="#bcd2f7"/><rect x="359.20" y="99.05" width="6.83" height="9.98" fill="#bcd2f7"/><rect x="365.97" y="99.05" width="6.83" height="9.98" fill="#cdd9ec"/><rect x="372.75" y="99.05" width="6.83" height="9.98" fill="#c5d6f2"/><rect x="379.53" y="99.05" width="6.83" height="9.98" fill="#c5d6f2"/><rect x="386.30" y="99.05" width="6.83" height="9.98" fill="#b3cdfb"/><rect x="393.08" y="99.05" width="6.83" height="9.98" fill="#bcd2f7"/><rect x="399.85" y="99.05" width="6.83" height="9.98" fill="#f6bda2"/><rect x="406.63" y="99.05" width="6.83" height="9.98" fill="#eb7d62"/><rect x="413.41" y="99.05" width="6.83" height="9.98" fill="#f6bda2"/><rect x="420.18" y="99.05" width="6.83" height="9.98" fill="#f2cbb7"/><rect x="426.96" y="99.05" width="6.83" height="9.98" fill="#e9d5cb"/><rect x="433.74" y="99.05" width="6.83" height="9.98" fill="#e9d5cb"/><rect x="440.51" y="99.05" width="6.83" height="9.98" fill="#e3d9d3"/><rect x="447.29" y="99.05" width="6.83" height="9.98" fill="#e9d5cb"/><rect x="454.06" y="99.05" width="6.83" height="9.98" fill="#eed0c0"/><rect x="460.84" y="99.05" width="6.83" height="9.98" fill="#dddcdc"/><rect x="467.62" y="99.05" width="6.83" height="9.98" fill="#c5d6f2"/><rect x="474.39" y="99.05" width="6.83" height="9.98" fill="#e9d5cb"/><rect x="481.17" y="99.05" width="6.83" height="9.98" fill="#d5dbe5"/><rect x="487.94" y="99.05" width="6.83" height="9.98" fill="#f6bda2"/><rect x="494.72" y="99.05" width="6.83" height="9.98" fill="#f5c4ac"/><rect x="501.50" y="99.05" width="6.83" height="9.98" fill="#f5c4ac"/><rect x="508.27" y="99.05" width="6.83" height="9.98" fill="#f5c4ac"/><rect x="515.05" y="99.05" width="6.83" height="9.98" fill="#f6bda2"/><rect x="521.82" y="99.05" width="6.83" height="9.98" fill="#f2cbb7"/><rect x="528.60" y="99.05" width="6.83" height="9.98" fill="#f2cbb7"/><rect x="535.38" y="99.05" width="6.83" height="9.98" fill="#f7b599"/><rect x="542.15" y="99.05" width="6.83" height="9.98" fill="#f7b599"/><rect x="548.93" y="99.05" width="6.83" height="9.98" fill="#f7b599"/><rect x="555.71" y="99.05" width="6.83" height="9.98" fill="#f5c4ac"/><rect x="562.48" y="99.05" width="6.83" height="9.98" fill="#f6bda2"/><rect x="569.26" y="99.05" width="6.83" height="9.98" fill="#f6bda2"/><rect x="576.03" y="99.05" width="6.83" height="9.98" fill="#f5c4ac"/><rect x="582.81" y="99.05" width="6.83" height="9.98" fill="#f5c4ac"/><rect x="589.59" y="99.05" width="6.83" height="9.98" fill="#bcd2f7"/><rect x="596.36" y="99.05" width="6.83" height="9.98" fill="#cdd9ec"/><rect x="603.14" y="99.05" width="6.83" height="9.98" fill="#eed0c0"/><rect x="609.91" y="99.05" width="6.83" height="9.98" fill="#eed0c0"/><rect x="616.69" y="99.05" width="6.83" height="9.98" fill="#e9d5cb"/><rect x="623.47" y="99.05" width="6.83" height="9.98" fill="#cdd9ec"/><rect x="630.24" y="99.05" width="6.83" height="9.98" fill="#f6bda2"/><rect x="637.02" y="99.05" width="6.83" height="9.98" fill="#f6bda2"/><rect x="643.80" y="99.05" width="6.83" height="9.98" fill="#f2cbb7"/><rect x="650.57" y="99.05" width="6.83" height="9.98" fill="#f5c4ac"/><rect x="657.35" y="99.05" width="6.83" height="9.98" fill="#e3d9d3"/><rect x="664.12" y="99.05" width="6.83" height="9.98" fill="#f6bda2"/><rect x="74.60" y="108.98" width="6.83" height="9.98" fill="#aac7fd"/><rect x="81.38" y="108.98" width="6.83" height="9.98" fill="#b3cdfb"/><rect x="88.15" y="108.98" width="6.83" height="9.98" fill="#bcd2f7"/><rect x="94.93" y="108.98" width="6.83" height="9.98" fill="#cdd9ec"/><rect x="101.70" y="108.98" width="6.83" height="9.98" fill="#cdd9ec"/><rect x="108.48" y="108.98" width="6.83" height="9.98" fill="#cdd9ec"/><rect x="115.26" y="108.98" width="6.83" height="9.98" fill="#cdd9ec"/><rect x="122.03" y="108.98" width="6.83" height="9.98" fill="#d5dbe5"/><rect x="128.81" y="108.98" width="6.83" height="9.98" fill="#cdd9ec"/><rect x="135.59" y="108.98" width="6.83" height="9.98" fill="#92b4fe"/><rect x="142.36" y="108.98" width="6.83" height="9.98" fill="#a1c0ff"/><rect x="149.14" y="108.98" width="6.83" height="9.98" fill="#bcd2f7"/><rect x="155.91" y="108.98" width="6.83" height="9.98" fill="#c5d6f2"/><rect x="162.69" y="108.98" width="6.83" height="9.98" fill="#c5d6f2"/><rect x="169.47" y="108.98" width="6.83" height="9.98" fill="#aac7fd"/><rect x="176.24" y="108.98" width="6.83" height="9.98" fill="#dddcdc"/><rect x="183.02" y="108.98" width="6.83" height="9.98" fill="#dddcdc"/><rect x="189.79" y="108.98" width="6.83" height="9.98" fill="#e3d9d3"/><rect x="196.57" y="108.98" width="6.83" height="9.98" fill="#cdd9ec"/><rect x="203.35" y="108.98" width="6.83" height="9.98" fill="#cdd9ec"/><rect x="210.12" y="108.98" width="6.83" height="9.98" fill="#d5dbe5"/><rect x="216.90" y="108.98" width="6.83" height="9.98" fill="#d5dbe5"/><rect x="223.67" y="108.98" width="6.83" height="9.98" fill="#d5dbe5"/><rect x="230.45" y="108.98" width="6.83" height="9.98" fill="#d5dbe5"/><rect x="237.23" y="108.98" width="6.83" height="9.98" fill="#d5dbe5"/><rect x="244.00" y="108.98" width="6.83" height="9.98" fill="#e9d5cb"/><rect x="250.78" y="108.98" width="6.83" height="9.98" fill="#e9d5cb"/><rect x="257.56" y="108.98" width="6.83" height="9.98" fill="#e9d5cb"/><rect x="264.33" y="108.98" width="6.83" height="9.98" fill="#e9d5cb"/><rect x="271.11" y="108.98" width="6.83" height="9.98" fill="#d8dce2"/><rect x="277.88" y="108.98" width="6.83" height="9.98" fill="#cdd9ec"/><rect x="284.66" y="108.98" width="6.83" height="9.98" fill="#a1c0ff"/><rect x="291.44" y="108.98" width="6.83" height="9.98" fill="#a1c0ff"/><rect x="298.21" y="108.98" width="6.83" height="9.98" fill="#bcd2f7"/><rect x="304.99" y="108.98" width="6.83" height="9.98" fill="#cdd9ec"/><rect x="311.76" y="108.98" width="6.83" height="9.98" fill="#aac7fd"/><rect x="318.54" y="108.98" width="6.83" height="9.98" fill="#aac7fd"/><rect x="325.32" y="108.98" width="6.83" height="9.98" fill="#799cf8"/><rect x="332.09" y="108.98" width="6.83" height="9.98" fill="#aac7fd"/><rect x="338.87" y="108.98" width="6.83" height="9.98" fill="#cdd9ec"/><rect x="345.65" y="108.98" width="6.83" height="9.98" fill="#c5d6f2"/><rect x="352.42" y="108.98" width="6.83" height="9.98" fill="#bcd2f7"/><rect x="359.20" y="108.98" width="6.83" height="9.98" fill="#c5d6f2"/><rect x="365.97" y="108.98" width="6.83" height="9.98" fill="#c5d6f2"/><rect x="372.75" y="108.98" width="6.83" height="9.98" fill="#cdd9ec"/><rect x="379.53" y="108.98" width="6.83" height="9.98" fill="#cdd9ec"/><rect x="386.30" y="108.98" width="6.83" height="9.98" fill="#cdd9ec"/><rect x="393.08" y="108.98" width="6.83" height="9.98" fill="#cdd9ec"/><rect x="399.85" y="108.98" width="6.83" height="9.98" fill="#f6bda2"/><rect x="406.63" y="108.98" width="6.83" height="9.98" fill="#f6bda2"/><rect x="413.41" y="108.98" width="6.83" height="9.98" fill="#eed0c0"/><rect x="420.18" y="108.98" width="6.83" height="9.98" fill="#e9d5cb"/><rect x="426.96" y="108.98" width="6.83" height="9.98" fill="#f7b599"/><rect x="433.74" y="108.98" width="6.83" height="9.98" fill="#f6bda2"/><rect x="440.51" y="108.98" width="6.83" height="9.98" fill="#e9d5cb"/><rect x="447.29" y="108.98" width="6.83" height="9.98" fill="#cdd9ec"/><rect x="454.06" y="108.98" width="6.83" height="9.98" fill="#cdd9ec"/><rect x="460.84" y="108.98" width="6.83" height="9.98" fill="#c5d6f2"/><rect x="467.62" y="108.98" width="6.83" height="9.98" fill="#88abfd"/><rect x="474.39" y="108.98" width="6.83" height="9.98" fill="#dddcdc"/><rect x="481.17" y="108.98" width="6.83" height="9.98" fill="#aac7fd"/><rect x="487.94" y="108.98" width="6.83" height="9.98" fill="#f7ac8e"/><rect x="494.72" y="108.98" width="6.83" height="9.98" fill="#f7ac8e"/><rect x="501.50" y="108.98" width="6.83" height="9.98" fill="#f7ac8e"/><rect x="508.27" y="108.98" width="6.83" height="9.98" fill="#f7ac8e"/><rect x="515.05" y="108.98" width="6.83" height="9.98" fill="#f2cbb7"/><rect x="521.82" y="108.98" width="6.83" height="9.98" fill="#f2cbb7"/><rect x="528.60" y="108.98" width="6.83" height="9.98" fill="#f6bda2"/><rect x="535.38" y="108.98" width="6.83" height="9.98" fill="#f5c4ac"/><rect x="542.15" y="108.98" width="6.83" height="9.98" fill="#f6bda2"/><rect x="548.93" y="108.98" width="6.83" height="9.98" fill="#f5c4ac"/><rect x="555.71" y="108.98" width="6.83" height="9.98" fill="#f6bda2"/><rect x="562.48" y="108.98" width="6.83" height="9.98" fill="#e9d5cb"/><rect x="569.26" y="108.98" width="6.83" height="9.98" fill="#e9d5cb"/><rect x="576.03" y="108.98" width="6.83" height="9.98" fill="#e9d5cb"/><rect x="582.81" y="108.98" width="6.83" height="9.98" fill="#e9d5cb"/><rect x="589.59" y="108.98" width="6.83" height="9.98" fill="#cdd9ec"/><rect x="596.36" y="108.98" width="6.83" height="9.98" fill="#d5dbe5"/><rect x="603.14" y="108.98" width="6.83" height="9.98" fill="#e3d9d3"/><rect x="609.91" y="108.98" width="6.83" height="9.98" fill="#e3d9d3"/><rect x="616.69" y="108.98" width="6.83" height="9.98" fill="#cdd9ec"/><rect x="623.47" y="108.98" width="6.83" height="9.98" fill="#c5d6f2"/><rect x="630.24" y="108.98" width="6.83" height="9.98" fill="#e9d5cb"/><rect x="637.02" y="108.98" width="6.83" height="9.98" fill="#e9d5cb"/><rect x="643.80" y="108.98" width="6.83" height="9.98" fill="#e9d5cb"/><rect x="650.57" y="108.98" width="6.83" height="9.98" fill="#e9d5cb"/><rect x="657.35" y="108.98" width="6.83" height="9.98" fill="#bcd2f7"/><rect x="664.12" y="108.98" width="6.83" height="9.98" fill="#eed0c0"/><rect x="74.60" y="118.91" width="6.83" height="9.98" fill="#e9d5cb"/><rect x="81.38" y="118.91" width="6.83" height="9.98" fill="#e3d9d3"/><rect x="88.15" y="118.91" width="6.83" height="9.98" fill="#dddcdc"/><rect x="94.93" y="118.91" width="6.83" height="9.98" fill="#dddcdc"/><rect x="101.70" y="118.91" width="6.83" height="9.98" fill="#dddcdc"/><rect x="108.48" y="118.91" width="6.83" height="9.98" fill="#dadce0"/><rect x="115.26" y="118.91" width="6.83" height="9.98" fill="#d8dce2"/><rect x="122.03" y="118.91" width="6.83" height="9.98" fill="#d8dce2"/><rect x="128.81" y="118.91" width="6.83" height="9.98" fill="#d8dce2"/><rect x="135.59" y="118.91" width="6.83" height="9.98" fill="#d5dbe5"/><rect x="142.36" y="118.91" width="6.83" height="9.98" fill="#e7d7ce"/><rect x="149.14" y="118.91" width="6.83" height="9.98" fill="#eed0c0"/><rect x="155.91" y="118.91" width="6.83" height="9.98" fill="#aac7fd"/><rect x="162.69" y="118.91" width="6.83" height="9.98" fill="#dddcdc"/><rect x="169.47" y="118.91" width="6.83" height="9.98" fill="#e3d9d3"/><rect x="176.24" y="118.91" width="6.83" height="9.98" fill="#e9d5cb"/><rect x="183.02" y="118.91" width="6.83" height="9.98" fill="#e3d9d3"/><rect x="189.79" y="118.91" width="6.83" height="9.98" fill="#e3d9d3"/><rect x="196.57" y="118.91" width="6.83" height="9.98" fill="#e3d9d3"/><rect x="203.35" y="118.91" width="6.83" height="9.98" fill="#e3d9d3"/><rect x="210.12" y="118.91" width="6.83" height="9.98" fill="#e0dbd8"/><rect x="216.90" y="118.91" width="6.83" height="9.98" fill="#e0dbd8"/><rect x="223.67" y="118.91" width="6.83" height="9.98" fill="#dddcdc"/><rect x="230.45" y="118.91" width="6.83" height="9.98" fill="#dddcdc"/><rect x="237.23" y="118.91" width="6.83" height="9.98" fill="#e0dbd8"/><rect x="244.00" y="118.91" width="6.83" height="9.98" fill="#dadce0"/><rect x="250.78" y="118.91" width="6.83" height="9.98" fill="#dadce0"/><rect x="257.56" y="118.91" width="6.83" height="9.98" fill="#dddcdc"/><rect x="264.33" y="118.91" width="6.83" height="9.98" fill="#dddcdc"/><rect x="271.11" y="118.91" width="6.83" height="9.98" fill="#c5d6f2"/><rect x="277.88" y="118.91" width="6.83" height="9.98" fill="#c5d6f2"/><rect x="284.66" y="118.91" width="6.83" height="9.98" fill="#e3d9d3"/><rect x="291.44" y="118.91" width="6.83" height="9.98" fill="#e3d9d3"/><rect x="298.21" y="118.91" width="6.83" height="9.98" fill="#e3d9d3"/><rect x="304.99" y="118.91" width="6.83" height="9.98" fill="#dddcdc"/><rect x="311.76" y="118.91" width="6.83" height="9.98" fill="#dddcdc"/><rect x="318.54" y="118.91" width="6.83" height="9.98" fill="#dddcdc"/><rect x="325.32" y="118.91" width="6.83" height="9.98" fill="#dddcdc"/><rect x="332.09" y="118.91" width="6.83" height="9.98" fill="#dddcdc"/><rect x="338.87" y="118.91" width="6.83" height="9.98" fill="#dfdbd9"/><rect x="345.65" y="118.91" width="6.83" height="9.98" fill="#f2cbb7"/><rect x="352.42" y="118.91" width="6.83" height="9.98" fill="#f7ac8e"/><rect x="359.20" y="118.91" width="6.83" height="9.98" fill="#f2cbb7"/><rect x="365.97" y="118.91" width="6.83" height="9.98" fill="#f7ac8e"/><rect x="372.75" y="118.91" width="6.83" height="9.98" fill="#e9d5cb"/><rect x="379.53" y="118.91" width="6.83" height="9.98" fill="#f2cbb7"/><rect x="386.30" y="118.91" width="6.83" height="9.98" fill="#dddcdc"/><rect x="393.08" y="118.91" width="6.83" height="9.98" fill="#cdd9ec"/><rect x="399.85" y="118.91" width="6.83" height="9.98" fill="#dddcdc"/><rect x="406.63" y="118.91" width="6.83" height="9.98" fill="#e3d9d3"/><rect x="413.41" y="118.91" width="6.83" height="9.98" fill="#e3d9d3"/><rect x="420.18" y="118.91" width="6.83" height="9.98" fill="#dfdbd9"/><rect x="426.96" y="118.91" width="6.83" height="9.98" fill="#cdd9ec"/><rect x="433.74" y="118.91" width="6.83" height="9.98" fill="#c5d6f2"/><rect x="440.51" y="118.91" width="6.83" height="9.98" fill="#d5dbe5"/><rect x="447.29" y="118.91" width="6.83" height="9.98" fill="#f5c4ac"/><rect x="454.06" y="118.91" width="6.83" height="9.98" fill="#eed0c0"/><rect x="460.84" y="118.91" width="6.83" height="9.98" fill="#e3d9d3"/><rect x="467.62" y="118.91" width="6.83" height="9.98" fill="#e3d9d3"/><rect x="474.39" y="118.91" width="6.83" height="9.98" fill="#d5dbe5"/><rect x="481.17" y="118.91" width="6.83" height="9.98" fill="#dddcdc"/><rect x="487.94" y="118.91" width="6.83" height="9.98" fill="#d5dbe5"/><rect x="494.72" y="118.91" width="6.83" height="9.98" fill="#c5d6f2"/><rect x="501.50" y="118.91" width="6.83" height="9.98" fill="#c5d6f2"/><rect x="508.27" y="118.91" width="6.83" height="9.98" fill="#cdd9ec"/><rect x="515.05" y="118.91" width="6.83" height="9.98" fill="#dddcdc"/><rect x="521.82" y="118.91" width="6.83" height="9.98" fill="#cdd9ec"/><rect x="528.60" y="118.91" width="6.83" height="9.98" fill="#cdd9ec"/><rect x="535.38" y="118.91" width="6.83" height="9.98" fill="#cdd9ec"/><rect x="542.15" y="118.91" width="6.83" height="9.98" fill="#cdd9ec"/><rect x="548.93" y="118.91" width="6.83" height="9.98" fill="#e3d9d3"/><rect x="555.71" y="118.91" width="6.83" height="9.98" fill="#d5dbe5"/><rect x="562.48" y="118.91" width="6.83" height="9.98" fill="#d5dbe5"/><rect x="569.26" y="118.91" width="6.83" height="9.98" fill="#d5dbe5"/><rect x="576.03" y="118.91" width="6.83" height="9.98" fill="#d5dbe5"/><rect x="582.81" y="118.91" width="6.83" height="9.98" fill="#dddcdc"/><rect x="589.59" y="118.91" width="6.83" height="9.98" fill="#d5dbe5"/><rect x="596.36" y="118.91" width="6.83" height="9.98" fill="#d5dbe5"/><rect x="603.14" y="118.91" width="6.83" height="9.98" fill="#dfdbd9"/><rect x="609.91" y="118.91" width="6.83" height="9.98" fill="#d8dce2"/><rect x="616.69" y="118.91" width="6.83" height="9.98" fill="#eed0c0"/><rect x="623.47" y="118.91" width="6.83" height="9.98" fill="#eed0c0"/><rect x="630.24" y="118.91" width="6.83" height="9.98" fill="#cdd9ec"/><rect x="637.02" y="118.91" width="6.83" height="9.98" fill="#cdd9ec"/><rect x="643.80" y="118.91" width="6.83" height="9.98" fill="#d5dbe5"/><rect x="650.57" y="118.91" width="6.83" height="9.98" fill="#d5dbe5"/><rect x="657.35" y="118.91" width="6.83" height="9.98" fill="#eed0c0"/><rect x="664.12" y="118.91" width="6.83" height="9.98" fill="#e3d9d3"/><rect x="74.60" y="128.84" width="6.83" height="9.98" fill="#cdd9ec"/><rect x="81.38" y="128.84" width="6.83" height="9.98" fill="#cdd9ec"/><rect x="88.15" y="128.84" width="6.83" height="9.98" fill="#d5dbe5"/><rect x="94.93" y="128.84" width="6.83" height="9.98" fill="#d5dbe5"/><rect x="101.70" y="128.84" width="6.83" height="9.98" fill="#d1dae9"/><rect x="108.48" y="128.84" width="6.83" height="9.98" fill="#d5dbe5"/><rect x="115.26" y="128.84" width="6.83" height="9.98" fill="#d5dbe5"/><rect x="122.03" y="128.84" width="6.83" height="9.98" fill="#e9d5cb"/><rect x="128.81" y="128.84" width="6.83" height="9.98" fill="#d5dbe5"/><rect x="135.59" y="128.84" width="6.83" height="9.98" fill="#b3cdfb"/><rect x="142.36" y="128.84" width="6.83" height="9.98" fill="#cdd9ec"/><rect x="149.14" y="128.84" width="6.83" height="9.98" fill="#dddcdc"/><rect x="155.91" y="128.84" width="6.83" height="9.98" fill="#aac7fd"/><rect x="162.69" y="128.84" width="6.83" height="9.98" fill="#dfdbd9"/><rect x="169.47" y="128.84" width="6.83" height="9.98" fill="#97b8ff"/><rect x="176.24" y="128.84" width="6.83" height="9.98" fill="#bcd2f7"/><rect x="183.02" y="128.84" width="6.83" height="9.98" fill="#cdd9ec"/><rect x="189.79" y="128.84" width="6.83" height="9.98" fill="#cdd9ec"/><rect x="196.57" y="128.84" width="6.83" height="9.98" fill="#c5d6f2"/><rect x="203.35" y="128.84" width="6.83" height="9.98" fill="#bcd2f7"/><rect x="210.12" y="128.84" width="6.83" height="9.98" fill="#c5d6f2"/><rect x="216.90" y="128.84" width="6.83" height="9.98" fill="#c5d6f2"/><rect x="223.67" y="128.84" width="6.83" height="9.98" fill="#bcd2f7"/><rect x="230.45" y="128.84" width="6.83" height="9.98" fill="#bcd2f7"/><rect x="237.23" y="128.84" width="6.83" height="9.98" fill="#bcd2f7"/><rect x="244.00" y="128.84" width="6.83" height="9.98" fill="#d5dbe5"/><rect x="250.78" y="128.84" width="6.83" height="9.98" fill="#d5dbe5"/><rect x="257.56" y="128.84" width="6.83" height="9.98" fill="#d5dbe5"/><rect x="264.33" y="128.84" width="6.83" height="9.98" fill="#d5dbe5"/><rect x="271.11" y="128.84" width="6.83" height="9.98" fill="#eed0c0"/><rect x="277.88" y="128.84" width="6.83" height="9.98" fill="#cdd9ec"/><rect x="284.66" y="128.84" width="6.83" height="9.98" fill="#cdd9ec"/><rect x="291.44" y="128.84" width="6.83" height="9.98" fill="#b3cdfb"/><rect x="298.21" y="128.84" width="6.83" height="9.98" fill="#aac7fd"/><rect x="304.99" y="128.84" width="6.83" height="9.98" fill="#a1c0ff"/><rect x="311.76" y="128.84" width="6.83" height="9.98" fill="#88abfd"/><rect x="318.54" y="128.84" width="6.83" height="9.98" fill="#aac7fd"/><rect x="325.32" y="128.84" width="6.83" height="9.98" fill="#aac7fd"/><rect x="332.09" y="128.84" width="6.83" height="9.98" fill="#a1c0ff"/><rect x="338.87" y="128.84" width="6.83" height="9.98" fill="#aac7fd"/><rect x="345.65" y="128.84" width="6.83" height="9.98" fill="#cdd9ec"/><rect x="352.42" y="128.84" width="6.83" height="9.98" fill="#cdd9ec"/><rect x="359.20" y="128.84" width="6.83" height="9.98" fill="#aac7fd"/><rect x="365.97" y="128.84" width="6.83" height="9.98" fill="#d5dbe5"/><rect x="372.75" y="128.84" width="6.83" height="9.98" fill="#bcd2f7"/><rect x="379.53" y="128.84" width="6.83" height="9.98" fill="#b3cdfb"/><rect x="386.30" y="128.84" width="6.83" height="9.98" fill="#b3cdfb"/><rect x="393.08" y="128.84" width="6.83" height="9.98" fill="#b3cdfb"/><rect x="399.85" y="128.84" width="6.83" height="9.98" fill="#e36c55"/><rect x="406.63" y="128.84" width="6.83" height="9.98" fill="#e9d5cb"/><rect x="413.41" y="128.84" width="6.83" height="9.98" fill="#e9d5cb"/><rect x="420.18" y="128.84" width="6.83" height="9.98" fill="#e3d9d3"/><rect x="426.96" y="128.84" width="6.83" height="9.98" fill="#e3d9d3"/><rect x="433.74" y="128.84" width="6.83" height="9.98" fill="#dddcdc"/><rect x="440.51" y="128.84" width="6.83" height="9.98" fill="#dddcdc"/><rect x="447.29" y="128.84" width="6.83" height="9.98" fill="#d5dbe5"/><rect x="454.06" y="128.84" width="6.83" height="9.98" fill="#d5dbe5"/><rect x="460.84" y="128.84" width="6.83" height="9.98" fill="#c5d6f2"/><rect x="467.62" y="128.84" width="6.83" height="9.98" fill="#c5d6f2"/><rect x="474.39" y="128.84" width="6.83" height="9.98" fill="#d5dbe5"/><rect x="481.17" y="128.84" width="6.83" height="9.98" fill="#dddcdc"/><rect x="487.94" y="128.84" width="6.83" height="9.98" fill="#eed0c0"/><rect x="494.72" y="128.84" width="6.83" height="9.98" fill="#e3d9d3"/><rect x="501.50" y="128.84" width="6.83" height="9.98" fill="#e3d9d3"/><rect x="508.27" y="128.84" width="6.83" height="9.98" fill="#e3d9d3"/><rect x="515.05" y="128.84" width="6.83" height="9.98" fill="#e9d5cb"/><rect x="521.82" y="128.84" width="6.83" height="9.98" fill="#d5dbe5"/><rect x="528.60" y="128.84" width="6.83" height="9.98" fill="#d5dbe5"/><rect x="535.38" y="128.84" width="6.83" height="9.98" fill="#d5dbe5"/><rect x="542.15" y="128.84" width="6.83" height="9.98" fill="#dddcdc"/><rect x="548.93" y="128.84" width="6.83" height="9.98" fill="#dfdbd9"/><rect x="555.71" y="128.84" width="6.83" height="9.98" fill="#dddcdc"/><rect x="562.48" y="128.84" width="6.83" height="9.98" fill="#e3d9d3"/><rect x="569.26" y="128.84" width="6.83" height="9.98" fill="#e3d9d3"/><rect x="576.03" y="128.84" width="6.83" height="9.98" fill="#dddcdc"/><rect x="582.81" y="128.84" width="6.83" height="9.98" fill="#dddcdc"/><rect x="589.59" y="128.84" width="6.83" height="9.98" fill="#a1c0ff"/><rect x="596.36" y="128.84" width="6.83" height="9.98" fill="#bcd2f7"/><rect x="603.14" y="128.84" width="6.83" height="9.98" fill="#d8dce2"/><rect x="609.91" y="128.84" width="6.83" height="9.98" fill="#d8dce2"/><rect x="616.69" y="128.84" width="6.83" height="9.98" fill="#c5d6f2"/><rect x="623.47" y="128.84" width="6.83" height="9.98" fill="#c5d6f2"/><rect x="630.24" y="128.84" width="6.83" height="9.98" fill="#e3d9d3"/><rect x="637.02" y="128.84" width="6.83" height="9.98" fill="#e3d9d3"/><rect x="643.80" y="128.84" width="6.83" height="9.98" fill="#dddcdc"/><rect x="650.57" y="128.84" width="6.83" height="9.98" fill="#dfdbd9"/><rect x="657.35" y="128.84" width="6.83" height="9.98" fill="#d5dbe5"/><rect x="664.12" y="128.84" width="6.83" height="9.98" fill="#e3d9d3"/><rect x="74.60" y="138.77" width="6.83" height="9.98" fill="#e3d9d3"/><rect x="81.38" y="138.77" width="6.83" height="9.98" fill="#dfdbd9"/><rect x="88.15" y="138.77" width="6.83" height="9.98" fill="#e7d7ce"/><rect x="94.93" y="138.77" width="6.83" height="9.98" fill="#dddcdc"/><rect x="101.70" y="138.77" width="6.83" height="9.98" fill="#dadce0"/><rect x="108.48" y="138.77" width="6.83" height="9.98" fill="#d5dbe5"/><rect x="115.26" y="138.77" width="6.83" height="9.98" fill="#d5dbe5"/><rect x="122.03" y="138.77" width="6.83" height="9.98" fill="#d8dce2"/><rect x="128.81" y="138.77" width="6.83" height="9.98" fill="#d8dce2"/><rect x="135.59" y="138.77" width="6.83" height="9.98" fill="#c5d6f2"/><rect x="142.36" y="138.77" width="6.83" height="9.98" fill="#d5dbe5"/><rect x="149.14" y="138.77" width="6.83" height="9.98" fill="#e9d5cb"/><rect x="155.91" y="138.77" width="6.83" height="9.98" fill="#799cf8"/><rect x="162.69" y="138.77" width="6.83" height="9.98" fill="#dddcdc"/><rect x="169.47" y="138.77" width="6.83" height="9.98" fill="#c5d6f2"/><rect x="176.24" y="138.77" width="6.83" height="9.98" fill="#d5dbe5"/><rect x="183.02" y="138.77" width="6.83" height="9.98" fill="#d5dbe5"/><rect x="189.79" y="138.77" width="6.83" height="9.98" fill="#cdd9ec"/><rect x="196.57" y="138.77" width="6.83" height="9.98" fill="#cdd9ec"/><rect x="203.35" y="138.77" width="6.83" height="9.98" fill="#cdd9ec"/><rect x="210.12" y="138.77" width="6.83" height="9.98" fill="#cdd9ec"/><rect x="216.90" y="138.77" width="6.83" height="9.98" fill="#c5d6f2"/><rect x="223.67" y="138.77" width="6.83" height="9.98" fill="#cdd9ec"/><rect x="230.45" y="138.77" width="6.83" height="9.98" fill="#cdd9ec"/><rect x="237.23" y="138.77" width="6.83" height="9.98" fill="#cdd9ec"/><rect x="244.00" y="138.77" width="6.83" height="9.98" fill="#d5dbe5"/><rect x="250.78" y="138.77" width="6.83" height="9.98" fill="#d5dbe5"/><rect x="257.56" y="138.77" width="6.83" height="9.98" fill="#d5dbe5"/><rect x="264.33" y="138.77" width="6.83" height="9.98" fill="#d5dbe5"/><rect x="271.11" y="138.77" width="6.83" height="9.98" fill="#d5dbe5"/><rect x="277.88" y="138.77" width="6.83" height="9.98" fill="#88abfd"/><rect x="284.66" y="138.77" width="6.83" height="9.98" fill="#cdd9ec"/><rect x="291.44" y="138.77" width="6.83" height="9.98" fill="#cdd9ec"/><rect x="298.21" y="138.77" width="6.83" height="9.98" fill="#b3cdfb"/><rect x="304.99" y="138.77" width="6.83" height="9.98" fill="#b3cdfb"/><rect x="311.76" y="138.77" width="6.83" height="9.98" fill="#b3cdfb"/><rect x="318.54" y="138.77" width="6.83" height="9.98" fill="#cdd9ec"/><rect x="325.32" y="138.77" width="6.83" height="9.98" fill="#cdd9ec"/><rect x="332.09" y="138.77" width="6.83" height="9.98" fill="#aac7fd"/><rect x="338.87" y="138.77" width="6.83" height="9.98" fill="#b3cdfb"/><rect x="345.65" y="138.77" width="6.83" height="9.98" fill="#eed0c0"/><rect x="352.42" y="138.77" width="6.83" height="9.98" fill="#f7b599"/><rect x="359.20" y="138.77" width="6.83" height="9.98" fill="#e9d5cb"/><rect x="365.97" y="138.77" width="6.83" height="9.98" fill="#f7b599"/><rect x="372.75" y="138.77" width="6.83" height="9.98" fill="#d5dbe5"/><rect x="379.53" y="138.77" width="6.83" height="9.98" fill="#d5dbe5"/><rect x="386.30" y="138.77" width="6.83" height="9.98" fill="#c5d6f2"/><rect x="393.08" y="138.77" width="6.83" height="9.98" fill="#aac7fd"/><rect x="399.85" y="138.77" width="6.83" height="9.98" fill="#f5c4ac"/><rect x="406.63" y="138.77" width="6.83" height="9.98" fill="#dddcdc"/><rect x="413.41" y="138.77" width="6.83" height="9.98" fill="#dddcdc"/><rect x="420.18" y="138.77" width="6.83" height="9.98" fill="#dddcdc"/><rect x="426.96" y="138.77" width="6.83" height="9.98" fill="#d5dbe5"/><rect x="433.74" y="138.77" width="6.83" height="9.98" fill="#aac7fd"/><rect x="440.51" y="138.77" width="6.83" height="9.98" fill="#d5dbe5"/><rect x="447.29" y="138.77" width="6.83" height="9.98" fill="#eed0c0"/><rect x="454.06" y="138.77" width="6.83" height="9.98" fill="#e9d5cb"/><rect x="460.84" y="138.77" width="6.83" height="9.98" fill="#e3d9d3"/><rect x="467.62" y="138.77" width="6.83" height="9.98" fill="#dddcdc"/><rect x="474.39" y="138.77" width="6.83" height="9.98" fill="#cdd9ec"/><rect x="481.17" y="138.77" width="6.83" height="9.98" fill="#d5dbe5"/><rect x="487.94" y="138.77" width="6.83" height="9.98" fill="#e9d5cb"/><rect x="494.72" y="138.77" width="6.83" height="9.98" fill="#dddcdc"/><rect x="501.50" y="138.77" width="6.83" height="9.98" fill="#dddcdc"/><rect x="508.27" y="138.77" width="6.83" height="9.98" fill="#dddcdc"/><rect x="515.05" y="138.77" width="6.83" height="9.98" fill="#e3d9d3"/><rect x="521.82" y="138.77" width="6.83" height="9.98" fill="#cdd9ec"/><rect x="528.60" y="138.77" width="6.83" height="9.98" fill="#cdd9ec"/><rect x="535.38" y="138.77" width="6.83" height="9.98" fill="#cdd9ec"/><rect x="542.15" y="138.77" width="6.83" height="9.98" fill="#cdd9ec"/><rect x="548.93" y="138.77" width="6.83" height="9.98" fill="#e3d9d3"/><rect x="555.71" y="138.77" width="6.83" height="9.98" fill="#d5dbe5"/><rect x="562.48" y="138.77" width="6.83" height="9.98" fill="#e3d9d3"/><rect x="569.26" y="138.77" width="6.83" height="9.98" fill="#e3d9d3"/><rect x="576.03" y="138.77" width="6.83" height="9.98" fill="#e3d9d3"/><rect x="582.81" y="138.77" width="6.83" height="9.98" fill="#dddcdc"/><rect x="589.59" y="138.77" width="6.83" height="9.98" fill="#97b8ff"/><rect x="596.36" y="138.77" width="6.83" height="9.98" fill="#bcd2f7"/><rect x="603.14" y="138.77" width="6.83" height="9.98" fill="#d8dce2"/><rect x="609.91" y="138.77" width="6.83" height="9.98" fill="#d8dce2"/><rect x="616.69" y="138.77" width="6.83" height="9.98" fill="#d5dbe5"/><rect x="623.47" y="138.77" width="6.83" height="9.98" fill="#dfdbd9"/><rect x="630.24" y="138.77" width="6.83" height="9.98" fill="#d5dbe5"/><rect x="637.02" y="138.77" width="6.83" height="9.98" fill="#cdd9ec"/><rect x="643.80" y="138.77" width="6.83" height="9.98" fill="#d8dce2"/><rect x="650.57" y="138.77" width="6.83" height="9.98" fill="#dddcdc"/><rect x="657.35" y="138.77" width="6.83" height="9.98" fill="#eed0c0"/><rect x="664.12" y="138.77" width="6.83" height="9.98" fill="#e9d5cb"/></g><path d="M81.38 19.6V148.7M88.15 19.6V148.7M94.93 19.6V148.7M101.70 19.6V148.7M108.48 19.6V148.7M115.26 19.6V148.7M122.03 19.6V148.7M128.81 19.6V148.7M135.59 19.6V148.7M142.36 19.6V148.7M149.14 19.6V148.7M155.91 19.6V148.7M162.69 19.6V148.7M169.47 19.6V148.7M176.24 19.6V148.7M183.02 19.6V148.7M189.79 19.6V148.7M196.57 19.6V148.7M203.35 19.6V148.7M210.12 19.6V148.7M216.90 19.6V148.7M223.67 19.6V148.7M230.45 19.6V148.7M237.23 19.6V148.7M244.00 19.6V148.7M250.78 19.6V148.7M257.56 19.6V148.7M264.33 19.6V148.7M271.11 19.6V148.7M277.88 19.6V148.7M284.66 19.6V148.7M291.44 19.6V148.7M298.21 19.6V148.7M304.99 19.6V148.7M311.76 19.6V148.7M318.54 19.6V148.7M325.32 19.6V148.7M332.09 19.6V148.7M338.87 19.6V148.7M345.65 19.6V148.7M352.42 19.6V148.7M359.20 19.6V148.7M365.97 19.6V148.7M372.75 19.6V148.7M379.53 19.6V148.7M386.30 19.6V148.7M393.08 19.6V148.7M399.85 19.6V148.7M406.63 19.6V148.7M413.41 19.6V148.7M420.18 19.6V148.7M426.96 19.6V148.7M433.74 19.6V148.7M440.51 19.6V148.7M447.29 19.6V148.7M454.06 19.6V148.7M460.84 19.6V148.7M467.62 19.6V148.7M474.39 19.6V148.7M481.17 19.6V148.7M487.94 19.6V148.7M494.72 19.6V148.7M501.50 19.6V148.7M508.27 19.6V148.7M515.05 19.6V148.7M521.82 19.6V148.7M528.60 19.6V148.7M535.38 19.6V148.7M542.15 19.6V148.7M548.93 19.6V148.7M555.71 19.6V148.7M562.48 19.6V148.7M569.26 19.6V148.7M576.03 19.6V148.7M582.81 19.6V148.7M589.59 19.6V148.7M596.36 19.6V148.7M603.14 19.6V148.7M609.91 19.6V148.7M616.69 19.6V148.7M623.47 19.6V148.7M630.24 19.6V148.7M637.02 19.6V148.7M643.80 19.6V148.7M650.57 19.6V148.7M657.35 19.6V148.7M664.12 19.6V148.7M74.6 29.53H670.9M74.6 39.46H670.9M74.6 49.39H670.9M74.6 59.32H670.9M74.6 69.25H670.9M74.6 79.18H670.9M74.6 89.12H670.9M74.6 99.05H670.9M74.6 108.98H670.9M74.6 118.91H670.9M74.6 128.84H670.9M74.6 138.77H670.9" stroke="#fff" stroke-opacity="0.25" stroke-width="0.4" fill="none"/><defs><g id="st"><path d="M0,-1.35V1.2M-1.15,-0.6L1.15,0.6M-1.15,0.6L1.15,-0.6" stroke="#3c3c3c" stroke-width="0.8" stroke-linecap="round"/><circle r="0.8" fill="#3c3c3c"/></g></defs><use href="#st" x="77.99" y="25.87"/><use href="#st" x="84.76" y="25.87"/><use href="#st" x="91.54" y="25.87"/><use href="#st" x="98.32" y="25.87"/><use href="#st" x="105.09" y="25.87"/><use href="#st" x="111.87" y="25.87"/><use href="#st" x="118.64" y="25.87"/><use href="#st" x="125.42" y="25.87"/><use href="#st" x="132.20" y="25.87"/><use href="#st" x="145.75" y="25.87"/><use href="#st" x="152.53" y="25.87"/><use href="#st" x="166.08" y="25.87"/><use href="#st" x="172.85" y="25.87"/><use href="#st" x="179.63" y="25.87"/><use href="#st" x="186.41" y="25.87"/><use href="#st" x="193.18" y="25.87"/><use href="#st" x="199.96" y="25.87"/><use href="#st" x="206.73" y="25.87"/><use href="#st" x="213.51" y="25.87"/><use href="#st" x="220.29" y="25.87"/><use href="#st" x="227.06" y="25.87"/><use href="#st" x="233.84" y="25.87"/><use href="#st" x="240.62" y="25.87"/><use href="#st" x="247.39" y="25.87"/><use href="#st" x="254.17" y="25.87"/><use href="#st" x="260.94" y="25.87"/><use href="#st" x="267.72" y="25.87"/><use href="#st" x="281.27" y="25.87"/><use href="#st" x="294.82" y="25.87"/><use href="#st" x="301.60" y="25.87"/><use href="#st" x="308.38" y="25.87"/><use href="#st" x="342.26" y="25.87"/><use href="#st" x="349.03" y="25.87"/><use href="#st" x="355.81" y="25.87"/><use href="#st" x="403.24" y="25.87"/><use href="#st" x="410.02" y="25.87"/><use href="#st" x="416.79" y="25.87"/><use href="#st" x="423.57" y="25.87"/><use href="#st" x="430.35" y="25.87"/><use href="#st" x="437.12" y="25.87"/><use href="#st" x="443.90" y="25.87"/><use href="#st" x="477.78" y="25.87"/><use href="#st" x="498.11" y="25.87"/><use href="#st" x="504.88" y="25.87"/><use href="#st" x="511.66" y="25.87"/><use href="#st" x="518.44" y="25.87"/><use href="#st" x="525.21" y="25.87"/><use href="#st" x="531.99" y="25.87"/><use href="#st" x="538.77" y="25.87"/><use href="#st" x="545.54" y="25.87"/><use href="#st" x="552.32" y="25.87"/><use href="#st" x="559.09" y="25.87"/><use href="#st" x="565.87" y="25.87"/><use href="#st" x="572.65" y="25.87"/><use href="#st" x="579.42" y="25.87"/><use href="#st" x="586.20" y="25.87"/><use href="#st" x="592.97" y="25.87"/><use href="#st" x="599.75" y="25.87"/><use href="#st" x="606.53" y="25.87"/><use href="#st" x="613.30" y="25.87"/><use href="#st" x="620.08" y="25.87"/><use href="#st" x="626.86" y="25.87"/><use href="#st" x="633.63" y="25.87"/><use href="#st" x="640.41" y="25.87"/><use href="#st" x="647.18" y="25.87"/><use href="#st" x="653.96" y="25.87"/><use href="#st" x="667.51" y="25.87"/><use href="#st" x="77.99" y="35.80"/><use href="#st" x="84.76" y="35.80"/><use href="#st" x="91.54" y="35.80"/><use href="#st" x="98.32" y="35.80"/><use href="#st" x="105.09" y="35.80"/><use href="#st" x="111.87" y="35.80"/><use href="#st" x="118.64" y="35.80"/><use href="#st" x="132.20" y="35.80"/><use href="#st" x="138.97" y="35.80"/><use href="#st" x="145.75" y="35.80"/><use href="#st" x="152.53" y="35.80"/><use href="#st" x="159.30" y="35.80"/><use href="#st" x="260.94" y="35.80"/><use href="#st" x="267.72" y="35.80"/><use href="#st" x="315.15" y="35.80"/><use href="#st" x="321.93" y="35.80"/><use href="#st" x="328.71" y="35.80"/><use href="#st" x="335.48" y="35.80"/><use href="#st" x="349.03" y="35.80"/><use href="#st" x="376.14" y="35.80"/><use href="#st" x="389.69" y="35.80"/><use href="#st" x="396.47" y="35.80"/><use href="#st" x="403.24" y="35.80"/><use href="#st" x="410.02" y="35.80"/><use href="#st" x="416.79" y="35.80"/><use href="#st" x="423.57" y="35.80"/><use href="#st" x="477.78" y="35.80"/><use href="#st" x="491.33" y="35.80"/><use href="#st" x="518.44" y="35.80"/><use href="#st" x="531.99" y="35.80"/><use href="#st" x="538.77" y="35.80"/><use href="#st" x="545.54" y="35.80"/><use href="#st" x="552.32" y="35.80"/><use href="#st" x="559.09" y="35.80"/><use href="#st" x="565.87" y="35.80"/><use href="#st" x="572.65" y="35.80"/><use href="#st" x="579.42" y="35.80"/><use href="#st" x="586.20" y="35.80"/><use href="#st" x="633.63" y="35.80"/><use href="#st" x="640.41" y="35.80"/><use href="#st" x="647.18" y="35.80"/><use href="#st" x="653.96" y="35.80"/><use href="#st" x="667.51" y="35.80"/><use href="#st" x="77.99" y="45.73"/><use href="#st" x="84.76" y="45.73"/><use href="#st" x="91.54" y="45.73"/><use href="#st" x="98.32" y="45.73"/><use href="#st" x="105.09" y="45.73"/><use href="#st" x="111.87" y="45.73"/><use href="#st" x="118.64" y="45.73"/><use href="#st" x="132.20" y="45.73"/><use href="#st" x="138.97" y="45.73"/><use href="#st" x="145.75" y="45.73"/><use href="#st" x="152.53" y="45.73"/><use href="#st" x="159.30" y="45.73"/><use href="#st" x="166.08" y="45.73"/><use href="#st" x="254.17" y="45.73"/><use href="#st" x="260.94" y="45.73"/><use href="#st" x="267.72" y="45.73"/><use href="#st" x="315.15" y="45.73"/><use href="#st" x="321.93" y="45.73"/><use href="#st" x="328.71" y="45.73"/><use href="#st" x="349.03" y="45.73"/><use href="#st" x="410.02" y="45.73"/><use href="#st" x="416.79" y="45.73"/><use href="#st" x="423.57" y="45.73"/><use href="#st" x="491.33" y="45.73"/><use href="#st" x="498.11" y="45.73"/><use href="#st" x="504.88" y="45.73"/><use href="#st" x="511.66" y="45.73"/><use href="#st" x="518.44" y="45.73"/><use href="#st" x="525.21" y="45.73"/><use href="#st" x="531.99" y="45.73"/><use href="#st" x="538.77" y="45.73"/><use href="#st" x="545.54" y="45.73"/><use href="#st" x="552.32" y="45.73"/><use href="#st" x="559.09" y="45.73"/><use href="#st" x="565.87" y="45.73"/><use href="#st" x="572.65" y="45.73"/><use href="#st" x="579.42" y="45.73"/><use href="#st" x="586.20" y="45.73"/><use href="#st" x="606.53" y="45.73"/><use href="#st" x="613.30" y="45.73"/><use href="#st" x="633.63" y="45.73"/><use href="#st" x="640.41" y="45.73"/><use href="#st" x="647.18" y="45.73"/><use href="#st" x="653.96" y="45.73"/><use href="#st" x="667.51" y="45.73"/><use href="#st" x="77.99" y="55.66"/><use href="#st" x="84.76" y="55.66"/><use href="#st" x="91.54" y="55.66"/><use href="#st" x="98.32" y="55.66"/><use href="#st" x="105.09" y="55.66"/><use href="#st" x="111.87" y="55.66"/><use href="#st" x="118.64" y="55.66"/><use href="#st" x="125.42" y="55.66"/><use href="#st" x="132.20" y="55.66"/><use href="#st" x="138.97" y="55.66"/><use href="#st" x="145.75" y="55.66"/><use href="#st" x="152.53" y="55.66"/><use href="#st" x="159.30" y="55.66"/><use href="#st" x="166.08" y="55.66"/><use href="#st" x="186.41" y="55.66"/><use href="#st" x="193.18" y="55.66"/><use href="#st" x="254.17" y="55.66"/><use href="#st" x="260.94" y="55.66"/><use href="#st" x="267.72" y="55.66"/><use href="#st" x="315.15" y="55.66"/><use href="#st" x="321.93" y="55.66"/><use href="#st" x="328.71" y="55.66"/><use href="#st" x="349.03" y="55.66"/><use href="#st" x="410.02" y="55.66"/><use href="#st" x="416.79" y="55.66"/><use href="#st" x="423.57" y="55.66"/><use href="#st" x="491.33" y="55.66"/><use href="#st" x="504.88" y="55.66"/><use href="#st" x="511.66" y="55.66"/><use href="#st" x="518.44" y="55.66"/><use href="#st" x="525.21" y="55.66"/><use href="#st" x="531.99" y="55.66"/><use href="#st" x="538.77" y="55.66"/><use href="#st" x="545.54" y="55.66"/><use href="#st" x="552.32" y="55.66"/><use href="#st" x="559.09" y="55.66"/><use href="#st" x="565.87" y="55.66"/><use href="#st" x="572.65" y="55.66"/><use href="#st" x="579.42" y="55.66"/><use href="#st" x="586.20" y="55.66"/><use href="#st" x="606.53" y="55.66"/><use href="#st" x="633.63" y="55.66"/><use href="#st" x="640.41" y="55.66"/><use href="#st" x="647.18" y="55.66"/><use href="#st" x="653.96" y="55.66"/><use href="#st" x="667.51" y="55.66"/><use href="#st" x="77.99" y="65.59"/><use href="#st" x="91.54" y="65.59"/><use href="#st" x="98.32" y="65.59"/><use href="#st" x="105.09" y="65.59"/><use href="#st" x="111.87" y="65.59"/><use href="#st" x="152.53" y="65.59"/><use href="#st" x="166.08" y="65.59"/><use href="#st" x="172.85" y="65.59"/><use href="#st" x="179.63" y="65.59"/><use href="#st" x="186.41" y="65.59"/><use href="#st" x="193.18" y="65.59"/><use href="#st" x="199.96" y="65.59"/><use href="#st" x="206.73" y="65.59"/><use href="#st" x="213.51" y="65.59"/><use href="#st" x="220.29" y="65.59"/><use href="#st" x="227.06" y="65.59"/><use href="#st" x="233.84" y="65.59"/><use href="#st" x="240.62" y="65.59"/><use href="#st" x="254.17" y="65.59"/><use href="#st" x="260.94" y="65.59"/><use href="#st" x="267.72" y="65.59"/><use href="#st" x="281.27" y="65.59"/><use href="#st" x="288.05" y="65.59"/><use href="#st" x="294.82" y="65.59"/><use href="#st" x="301.60" y="65.59"/><use href="#st" x="308.38" y="65.59"/><use href="#st" x="335.48" y="65.59"/><use href="#st" x="342.26" y="65.59"/><use href="#st" x="349.03" y="65.59"/><use href="#st" x="403.24" y="65.59"/><use href="#st" x="410.02" y="65.59"/><use href="#st" x="423.57" y="65.59"/><use href="#st" x="437.12" y="65.59"/><use href="#st" x="450.68" y="65.59"/><use href="#st" x="457.45" y="65.59"/><use href="#st" x="477.78" y="65.59"/><use href="#st" x="511.66" y="65.59"/><use href="#st" x="518.44" y="65.59"/><use href="#st" x="525.21" y="65.59"/><use href="#st" x="531.99" y="65.59"/><use href="#st" x="538.77" y="65.59"/><use href="#st" x="545.54" y="65.59"/><use href="#st" x="552.32" y="65.59"/><use href="#st" x="559.09" y="65.59"/><use href="#st" x="579.42" y="65.59"/><use href="#st" x="586.20" y="65.59"/><use href="#st" x="592.97" y="65.59"/><use href="#st" x="599.75" y="65.59"/><use href="#st" x="606.53" y="65.59"/><use href="#st" x="613.30" y="65.59"/><use href="#st" x="620.08" y="65.59"/><use href="#st" x="626.86" y="65.59"/><use href="#st" x="633.63" y="65.59"/><use href="#st" x="640.41" y="65.59"/><use href="#st" x="647.18" y="65.59"/><use href="#st" x="653.96" y="65.59"/><use href="#st" x="91.54" y="75.52"/><use href="#st" x="98.32" y="75.52"/><use href="#st" x="105.09" y="75.52"/><use href="#st" x="111.87" y="75.52"/><use href="#st" x="118.64" y="75.52"/><use href="#st" x="125.42" y="75.52"/><use href="#st" x="132.20" y="75.52"/><use href="#st" x="166.08" y="75.52"/><use href="#st" x="172.85" y="75.52"/><use href="#st" x="179.63" y="75.52"/><use href="#st" x="186.41" y="75.52"/><use href="#st" x="193.18" y="75.52"/><use href="#st" x="199.96" y="75.52"/><use href="#st" x="206.73" y="75.52"/><use href="#st" x="213.51" y="75.52"/><use href="#st" x="220.29" y="75.52"/><use href="#st" x="227.06" y="75.52"/><use href="#st" x="233.84" y="75.52"/><use href="#st" x="240.62" y="75.52"/><use href="#st" x="247.39" y="75.52"/><use href="#st" x="254.17" y="75.52"/><use href="#st" x="260.94" y="75.52"/><use href="#st" x="267.72" y="75.52"/><use href="#st" x="288.05" y="75.52"/><use href="#st" x="294.82" y="75.52"/><use href="#st" x="301.60" y="75.52"/><use href="#st" x="308.38" y="75.52"/><use href="#st" x="335.48" y="75.52"/><use href="#st" x="342.26" y="75.52"/><use href="#st" x="362.59" y="75.52"/><use href="#st" x="403.24" y="75.52"/><use href="#st" x="416.79" y="75.52"/><use href="#st" x="423.57" y="75.52"/><use href="#st" x="450.68" y="75.52"/><use href="#st" x="457.45" y="75.52"/><use href="#st" x="464.23" y="75.52"/><use href="#st" x="518.44" y="75.52"/><use href="#st" x="525.21" y="75.52"/><use href="#st" x="531.99" y="75.52"/><use href="#st" x="538.77" y="75.52"/><use href="#st" x="545.54" y="75.52"/><use href="#st" x="552.32" y="75.52"/><use href="#st" x="559.09" y="75.52"/><use href="#st" x="565.87" y="75.52"/><use href="#st" x="572.65" y="75.52"/><use href="#st" x="579.42" y="75.52"/><use href="#st" x="586.20" y="75.52"/><use href="#st" x="592.97" y="75.52"/><use href="#st" x="599.75" y="75.52"/><use href="#st" x="606.53" y="75.52"/><use href="#st" x="613.30" y="75.52"/><use href="#st" x="620.08" y="75.52"/><use href="#st" x="626.86" y="75.52"/><use href="#st" x="633.63" y="75.52"/><use href="#st" x="640.41" y="75.52"/><use href="#st" x="647.18" y="75.52"/><use href="#st" x="653.96" y="75.52"/><use href="#st" x="660.74" y="75.52"/><use href="#st" x="667.51" y="75.52"/><use href="#st" x="77.99" y="85.45"/><use href="#st" x="84.76" y="85.45"/><use href="#st" x="98.32" y="85.45"/><use href="#st" x="105.09" y="85.45"/><use href="#st" x="111.87" y="85.45"/><use href="#st" x="118.64" y="85.45"/><use href="#st" x="125.42" y="85.45"/><use href="#st" x="132.20" y="85.45"/><use href="#st" x="152.53" y="85.45"/><use href="#st" x="166.08" y="85.45"/><use href="#st" x="172.85" y="85.45"/><use href="#st" x="179.63" y="85.45"/><use href="#st" x="186.41" y="85.45"/><use href="#st" x="193.18" y="85.45"/><use href="#st" x="199.96" y="85.45"/><use href="#st" x="206.73" y="85.45"/><use href="#st" x="213.51" y="85.45"/><use href="#st" x="220.29" y="85.45"/><use href="#st" x="227.06" y="85.45"/><use href="#st" x="233.84" y="85.45"/><use href="#st" x="240.62" y="85.45"/><use href="#st" x="254.17" y="85.45"/><use href="#st" x="260.94" y="85.45"/><use href="#st" x="267.72" y="85.45"/><use href="#st" x="288.05" y="85.45"/><use href="#st" x="294.82" y="85.45"/><use href="#st" x="301.60" y="85.45"/><use href="#st" x="308.38" y="85.45"/><use href="#st" x="342.26" y="85.45"/><use href="#st" x="349.03" y="85.45"/><use href="#st" x="362.59" y="85.45"/><use href="#st" x="403.24" y="85.45"/><use href="#st" x="416.79" y="85.45"/><use href="#st" x="423.57" y="85.45"/><use href="#st" x="450.68" y="85.45"/><use href="#st" x="457.45" y="85.45"/><use href="#st" x="464.23" y="85.45"/><use href="#st" x="518.44" y="85.45"/><use href="#st" x="525.21" y="85.45"/><use href="#st" x="531.99" y="85.45"/><use href="#st" x="538.77" y="85.45"/><use href="#st" x="545.54" y="85.45"/><use href="#st" x="559.09" y="85.45"/><use href="#st" x="565.87" y="85.45"/><use href="#st" x="572.65" y="85.45"/><use href="#st" x="579.42" y="85.45"/><use href="#st" x="586.20" y="85.45"/><use href="#st" x="599.75" y="85.45"/><use href="#st" x="606.53" y="85.45"/><use href="#st" x="613.30" y="85.45"/><use href="#st" x="620.08" y="85.45"/><use href="#st" x="626.86" y="85.45"/><use href="#st" x="633.63" y="85.45"/><use href="#st" x="640.41" y="85.45"/><use href="#st" x="647.18" y="85.45"/><use href="#st" x="653.96" y="85.45"/><use href="#st" x="660.74" y="85.45"/><use href="#st" x="667.51" y="85.45"/><use href="#st" x="77.99" y="95.38"/><use href="#st" x="84.76" y="95.38"/><use href="#st" x="91.54" y="95.38"/><use href="#st" x="98.32" y="95.38"/><use href="#st" x="105.09" y="95.38"/><use href="#st" x="111.87" y="95.38"/><use href="#st" x="118.64" y="95.38"/><use href="#st" x="132.20" y="95.38"/><use href="#st" x="138.97" y="95.38"/><use href="#st" x="145.75" y="95.38"/><use href="#st" x="152.53" y="95.38"/><use href="#st" x="159.30" y="95.38"/><use href="#st" x="166.08" y="95.38"/><use href="#st" x="254.17" y="95.38"/><use href="#st" x="260.94" y="95.38"/><use href="#st" x="267.72" y="95.38"/><use href="#st" x="315.15" y="95.38"/><use href="#st" x="321.93" y="95.38"/><use href="#st" x="328.71" y="95.38"/><use href="#st" x="349.03" y="95.38"/><use href="#st" x="410.02" y="95.38"/><use href="#st" x="416.79" y="95.38"/><use href="#st" x="423.57" y="95.38"/><use href="#st" x="491.33" y="95.38"/><use href="#st" x="498.11" y="95.38"/><use href="#st" x="504.88" y="95.38"/><use href="#st" x="511.66" y="95.38"/><use href="#st" x="518.44" y="95.38"/><use href="#st" x="525.21" y="95.38"/><use href="#st" x="531.99" y="95.38"/><use href="#st" x="538.77" y="95.38"/><use href="#st" x="545.54" y="95.38"/><use href="#st" x="552.32" y="95.38"/><use href="#st" x="559.09" y="95.38"/><use href="#st" x="565.87" y="95.38"/><use href="#st" x="572.65" y="95.38"/><use href="#st" x="579.42" y="95.38"/><use href="#st" x="586.20" y="95.38"/><use href="#st" x="606.53" y="95.38"/><use href="#st" x="633.63" y="95.38"/><use href="#st" x="640.41" y="95.38"/><use href="#st" x="647.18" y="95.38"/><use href="#st" x="653.96" y="95.38"/><use href="#st" x="667.51" y="95.38"/><use href="#st" x="77.99" y="105.31"/><use href="#st" x="84.76" y="105.31"/><use href="#st" x="91.54" y="105.31"/><use href="#st" x="98.32" y="105.31"/><use href="#st" x="105.09" y="105.31"/><use href="#st" x="138.97" y="105.31"/><use href="#st" x="145.75" y="105.31"/><use href="#st" x="152.53" y="105.31"/><use href="#st" x="172.85" y="105.31"/><use href="#st" x="260.94" y="105.31"/><use href="#st" x="294.82" y="105.31"/><use href="#st" x="315.15" y="105.31"/><use href="#st" x="321.93" y="105.31"/><use href="#st" x="328.71" y="105.31"/><use href="#st" x="335.48" y="105.31"/><use href="#st" x="349.03" y="105.31"/><use href="#st" x="355.81" y="105.31"/><use href="#st" x="362.59" y="105.31"/><use href="#st" x="389.69" y="105.31"/><use href="#st" x="396.47" y="105.31"/><use href="#st" x="403.24" y="105.31"/><use href="#st" x="410.02" y="105.31"/><use href="#st" x="416.79" y="105.31"/><use href="#st" x="491.33" y="105.31"/><use href="#st" x="518.44" y="105.31"/><use href="#st" x="538.77" y="105.31"/><use href="#st" x="545.54" y="105.31"/><use href="#st" x="552.32" y="105.31"/><use href="#st" x="565.87" y="105.31"/><use href="#st" x="572.65" y="105.31"/><use href="#st" x="633.63" y="105.31"/><use href="#st" x="640.41" y="105.31"/><use href="#st" x="653.96" y="105.31"/><use href="#st" x="667.51" y="105.31"/><use href="#st" x="77.99" y="115.24"/><use href="#st" x="84.76" y="115.24"/><use href="#st" x="138.97" y="115.24"/><use href="#st" x="145.75" y="115.24"/><use href="#st" x="172.85" y="115.24"/><use href="#st" x="288.05" y="115.24"/><use href="#st" x="294.82" y="115.24"/><use href="#st" x="315.15" y="115.24"/><use href="#st" x="321.93" y="115.24"/><use href="#st" x="328.71" y="115.24"/><use href="#st" x="335.48" y="115.24"/><use href="#st" x="355.81" y="115.24"/><use href="#st" x="403.24" y="115.24"/><use href="#st" x="410.02" y="115.24"/><use href="#st" x="430.35" y="115.24"/><use href="#st" x="437.12" y="115.24"/><use href="#st" x="471.00" y="115.24"/><use href="#st" x="484.56" y="115.24"/><use href="#st" x="491.33" y="115.24"/><use href="#st" x="498.11" y="115.24"/><use href="#st" x="504.88" y="115.24"/><use href="#st" x="511.66" y="115.24"/><use href="#st" x="531.99" y="115.24"/><use href="#st" x="545.54" y="115.24"/><use href="#st" x="559.09" y="115.24"/><use href="#st" x="159.30" y="125.17"/><use href="#st" x="355.81" y="125.17"/><use href="#st" x="369.36" y="125.17"/><use href="#st" x="382.91" y="125.17"/><use href="#st" x="450.68" y="125.17"/><use href="#st" x="138.97" y="135.10"/><use href="#st" x="159.30" y="135.10"/><use href="#st" x="172.85" y="135.10"/><use href="#st" x="199.96" y="135.10"/><use href="#st" x="233.84" y="135.10"/><use href="#st" x="294.82" y="135.10"/><use href="#st" x="301.60" y="135.10"/><use href="#st" x="308.38" y="135.10"/><use href="#st" x="315.15" y="135.10"/><use href="#st" x="321.93" y="135.10"/><use href="#st" x="328.71" y="135.10"/><use href="#st" x="335.48" y="135.10"/><use href="#st" x="342.26" y="135.10"/><use href="#st" x="362.59" y="135.10"/><use href="#st" x="382.91" y="135.10"/><use href="#st" x="389.69" y="135.10"/><use href="#st" x="396.47" y="135.10"/><use href="#st" x="403.24" y="135.10"/><use href="#st" x="592.97" y="135.10"/><use href="#st" x="159.30" y="145.03"/><use href="#st" x="281.27" y="145.03"/><use href="#st" x="301.60" y="145.03"/><use href="#st" x="308.38" y="145.03"/><use href="#st" x="315.15" y="145.03"/><use href="#st" x="335.48" y="145.03"/><use href="#st" x="342.26" y="145.03"/><use href="#st" x="355.81" y="145.03"/><use href="#st" x="369.36" y="145.03"/><use href="#st" x="396.47" y="145.03"/><use href="#st" x="403.24" y="145.03"/><use href="#st" x="437.12" y="145.03"/><use href="#st" x="592.97" y="145.03"/><rect x="235.80" y="18.80" width="8.90" height="12.80" rx="2" fill="none" stroke="#ff0000" stroke-width="1.8"/><rect x="316.90" y="47.00" width="9.30" height="13.00" rx="2" fill="none" stroke="#7030a0" stroke-width="1.8"/><rect x="194.70" y="58.90" width="9.30" height="12.70" rx="2" fill="none" stroke="#0000ff" stroke-width="1.8"/><rect x="465.70" y="108.10" width="8.40" height="11.40" rx="2" fill="none" stroke="#32cd32" stroke-width="1.8"/><text x="69.65" y="26.87" font-size="7.5" text-anchor="end" textLength="28.40" lengthAdjust="spacingAndGlyphs" fill="#303030">CD127+</text><text x="69.95" y="36.80" font-size="7.5" text-anchor="end" textLength="19.20" lengthAdjust="spacingAndGlyphs" fill="#303030">Naive</text><text x="69.45" y="46.73" font-size="7.5" text-anchor="end" textLength="19.90" lengthAdjust="spacingAndGlyphs" fill="#303030">CD4+</text><text x="70.15" y="56.66" font-size="7.5" text-anchor="end" textLength="50.60" lengthAdjust="spacingAndGlyphs" fill="#303030">CD4:CD8 Ratio</text><text x="69.55" y="66.59" font-size="7.5" text-anchor="end" textLength="19.50" lengthAdjust="spacingAndGlyphs" fill="#303030">PD1+</text><text x="70.25" y="76.52" font-size="7.5" text-anchor="end" textLength="23.50" lengthAdjust="spacingAndGlyphs" fill="#303030">TEMRA</text><text x="69.55" y="86.45" font-size="7.5" text-anchor="end" textLength="24.10" lengthAdjust="spacingAndGlyphs" fill="#303030">CD57+</text><text x="69.55" y="96.38" font-size="7.5" text-anchor="end" textLength="19.90" lengthAdjust="spacingAndGlyphs" fill="#303030">CD8+</text><text x="69.75" y="106.31" font-size="7.5" text-anchor="end" textLength="55.40" lengthAdjust="spacingAndGlyphs" fill="#303030">Effector Memory</text><text x="69.95" y="116.24" font-size="7.5" text-anchor="end" textLength="52.40" lengthAdjust="spacingAndGlyphs" fill="#303030">CAR Expression</text><text x="69.75" y="126.17" font-size="7.5" text-anchor="end" textLength="23.50" lengthAdjust="spacingAndGlyphs" fill="#303030">LAG3+</text><text x="70.05" y="136.10" font-size="7.5" text-anchor="end" textLength="54.00" lengthAdjust="spacingAndGlyphs" fill="#303030">Central Memory</text><text x="69.55" y="146.03" font-size="7.5" text-anchor="end" textLength="21.70" lengthAdjust="spacingAndGlyphs" fill="#303030">TIM3+</text><path d="M71.9 24.57H74.6M71.9 34.50H74.6M71.9 44.43H74.6M71.9 54.36H74.6M71.9 64.29H74.6M71.9 74.22H74.6M71.9 84.15H74.6M71.9 94.08H74.6M71.9 104.01H74.6M71.9 113.94H74.6M71.9 123.87H74.6M71.9 133.80H74.6M71.9 143.73H74.6" stroke="#333" stroke-width="0.7" fill="none"/><path d="M77.99 148.7V151.4M84.76 148.7V151.4M91.54 148.7V151.4M98.32 148.7V151.4M105.09 148.7V151.4M111.87 148.7V151.4M118.64 148.7V151.4M125.42 148.7V151.4M132.20 148.7V151.4M138.97 148.7V151.4M145.75 148.7V151.4M152.53 148.7V151.4M159.30 148.7V151.4M166.08 148.7V151.4M172.85 148.7V151.4M179.63 148.7V151.4M186.41 148.7V151.4M193.18 148.7V151.4M199.96 148.7V151.4M206.73 148.7V151.4M213.51 148.7V151.4M220.29 148.7V151.4M227.06 148.7V151.4M233.84 148.7V151.4M240.62 148.7V151.4M247.39 148.7V151.4M254.17 148.7V151.4M260.94 148.7V151.4M267.72 148.7V151.4M274.50 148.7V151.4M281.27 148.7V151.4M288.05 148.7V151.4M294.82 148.7V151.4M301.60 148.7V151.4M308.38 148.7V151.4M315.15 148.7V151.4M321.93 148.7V151.4M328.71 148.7V151.4M335.48 148.7V151.4M342.26 148.7V151.4M349.03 148.7V151.4M355.81 148.7V151.4M362.59 148.7V151.4M369.36 148.7V151.4M376.14 148.7V151.4M382.91 148.7V151.4M389.69 148.7V151.4M396.47 148.7V151.4M403.24 148.7V151.4M410.02 148.7V151.4M416.79 148.7V151.4M423.57 148.7V151.4M430.35 148.7V151.4M437.12 148.7V151.4M443.90 148.7V151.4M450.68 148.7V151.4M457.45 148.7V151.4M464.23 148.7V151.4M471.00 148.7V151.4M477.78 148.7V151.4M484.56 148.7V151.4M491.33 148.7V151.4M498.11 148.7V151.4M504.88 148.7V151.4M511.66 148.7V151.4M518.44 148.7V151.4M525.21 148.7V151.4M531.99 148.7V151.4M538.77 148.7V151.4M545.54 148.7V151.4M552.32 148.7V151.4M559.09 148.7V151.4M565.87 148.7V151.4M572.65 148.7V151.4M579.42 148.7V151.4M586.20 148.7V151.4M592.97 148.7V151.4M599.75 148.7V151.4M606.53 148.7V151.4M613.30 148.7V151.4M620.08 148.7V151.4M626.86 148.7V151.4M633.63 148.7V151.4M640.41 148.7V151.4M647.18 148.7V151.4M653.96 148.7V151.4M660.74 148.7V151.4M667.51 148.7V151.4" stroke="#666" stroke-width="0.6" fill="none"/><g fill="#2a2a2a"><text transform="translate(80.49,153.6) rotate(-90)" text-anchor="end" font-size="7.1">S29</text><text transform="translate(87.26,153.6) rotate(-90)" text-anchor="end" font-size="7.1">C14</text><text transform="translate(94.04,153.6) rotate(-90)" text-anchor="end" font-size="7.1">D24</text><text transform="translate(100.82,153.6) rotate(-90)" text-anchor="end" font-size="7.1">S22</text><text transform="translate(107.59,153.6) rotate(-90)" text-anchor="end" font-size="7.1">S21</text><text transform="translate(114.37,153.6) rotate(-90)" text-anchor="end" font-size="7.1">D25</text><text transform="translate(121.14,153.6) rotate(-90)" text-anchor="end" font-size="7.1">D22</text><text transform="translate(127.92,153.6) rotate(-90)" text-anchor="end" font-size="7.1">C31</text><text transform="translate(134.70,153.6) rotate(-90)" text-anchor="end" font-size="7.1">D27</text><text transform="translate(141.47,153.6) rotate(-90)" text-anchor="end" font-size="7.1">C20</text><text transform="translate(148.25,153.6) rotate(-90)" text-anchor="end" font-size="7.1">C6</text><text transform="translate(155.03,153.6) rotate(-90)" text-anchor="end" font-size="7.1">D21</text><text transform="translate(161.80,153.6) rotate(-90)" text-anchor="end" font-size="7.1">S30</text><text transform="translate(168.58,153.6) rotate(-90)" text-anchor="end" font-size="7.1">S8</text><text transform="translate(175.35,153.6) rotate(-90)" text-anchor="end" font-size="7.1">C22</text><text transform="translate(182.13,153.6) rotate(-90)" text-anchor="end" font-size="7.1">S24</text><text transform="translate(188.91,153.6) rotate(-90)" text-anchor="end" font-size="7.1">S10</text><text transform="translate(195.68,153.6) rotate(-90)" text-anchor="end" font-size="7.1">C28</text><text transform="translate(202.46,153.6) rotate(-90)" text-anchor="end" font-size="7.1">S16</text><text transform="translate(209.23,153.6) rotate(-90)" text-anchor="end" font-size="7.1">S15</text><text transform="translate(216.01,153.6) rotate(-90)" text-anchor="end" font-size="7.1">S17</text><text transform="translate(222.79,153.6) rotate(-90)" text-anchor="end" font-size="7.1">C27</text><text transform="translate(229.56,153.6) rotate(-90)" text-anchor="end" font-size="7.1">S11</text><text transform="translate(236.34,153.6) rotate(-90)" text-anchor="end" font-size="7.1">S14</text><text transform="translate(243.12,153.6) rotate(-90)" text-anchor="end" font-size="7.1">S12</text><text transform="translate(249.89,153.6) rotate(-90)" text-anchor="end" font-size="7.1">S20</text><text transform="translate(256.67,153.6) rotate(-90)" text-anchor="end" font-size="7.1">C9</text><text transform="translate(263.44,153.6) rotate(-90)" text-anchor="end" font-size="7.1">S6</text><text transform="translate(270.22,153.6) rotate(-90)" text-anchor="end" font-size="7.1">C1</text><text transform="translate(277.00,153.6) rotate(-90)" text-anchor="end" font-size="7.1">C29</text><text transform="translate(283.77,153.6) rotate(-90)" text-anchor="end" font-size="7.1">C12</text><text transform="translate(290.55,153.6) rotate(-90)" text-anchor="end" font-size="7.1">C30</text><text transform="translate(297.32,153.6) rotate(-90)" text-anchor="end" font-size="7.1">C16</text><text transform="translate(304.10,153.6) rotate(-90)" text-anchor="end" font-size="7.1">S5</text><text transform="translate(310.88,153.6) rotate(-90)" text-anchor="end" font-size="7.1">S13</text><text transform="translate(317.65,153.6) rotate(-90)" text-anchor="end" font-size="7.1">C19</text><text transform="translate(324.43,153.6) rotate(-90)" text-anchor="end" font-size="7.1">S23</text><text transform="translate(331.21,153.6) rotate(-90)" text-anchor="end" font-size="7.1">C17</text><text transform="translate(337.98,153.6) rotate(-90)" text-anchor="end" font-size="7.1">C18</text><text transform="translate(344.76,153.6) rotate(-90)" text-anchor="end" font-size="7.1">C23</text><text transform="translate(351.53,153.6) rotate(-90)" text-anchor="end" font-size="7.1">D23</text><text transform="translate(358.31,153.6) rotate(-90)" text-anchor="end" font-size="7.1">C13</text><text transform="translate(365.09,153.6) rotate(-90)" text-anchor="end" font-size="7.1">C25</text><text transform="translate(371.86,153.6) rotate(-90)" text-anchor="end" font-size="7.1">D26</text><text transform="translate(378.64,153.6) rotate(-90)" text-anchor="end" font-size="7.1">C26</text><text transform="translate(385.41,153.6) rotate(-90)" text-anchor="end" font-size="7.1">C8</text><text transform="translate(392.19,153.6) rotate(-90)" text-anchor="end" font-size="7.1">C24</text><text transform="translate(398.97,153.6) rotate(-90)" text-anchor="end" font-size="7.1">C21</text><text transform="translate(405.74,153.6) rotate(-90)" text-anchor="end" font-size="7.1">S7</text><text transform="translate(412.52,153.6) rotate(-90)" text-anchor="end" font-size="7.1">C10</text><text transform="translate(419.29,153.6) rotate(-90)" text-anchor="end" font-size="7.1">D10</text><text transform="translate(426.07,153.6) rotate(-90)" text-anchor="end" font-size="7.1">D14</text><text transform="translate(432.85,153.6) rotate(-90)" text-anchor="end" font-size="7.1">S26</text><text transform="translate(439.62,153.6) rotate(-90)" text-anchor="end" font-size="7.1">D19</text><text transform="translate(446.40,153.6) rotate(-90)" text-anchor="end" font-size="7.1">D6</text><text transform="translate(453.18,153.6) rotate(-90)" text-anchor="end" font-size="7.1">C4</text><text transform="translate(459.95,153.6) rotate(-90)" text-anchor="end" font-size="7.1">C5</text><text transform="translate(466.73,153.6) rotate(-90)" text-anchor="end" font-size="7.1">S4</text><text transform="translate(473.50,153.6) rotate(-90)" text-anchor="end" font-size="7.1">C15</text><text transform="translate(480.28,153.6) rotate(-90)" text-anchor="end" font-size="7.1">C3</text><text transform="translate(487.06,153.6) rotate(-90)" text-anchor="end" font-size="7.1">C11</text><text transform="translate(493.83,153.6) rotate(-90)" text-anchor="end" font-size="7.1">S28</text><text transform="translate(500.61,153.6) rotate(-90)" text-anchor="end" font-size="7.1">S27</text><text transform="translate(507.38,153.6) rotate(-90)" text-anchor="end" font-size="7.1">S25</text><text transform="translate(514.16,153.6) rotate(-90)" text-anchor="end" font-size="7.1">S9</text><text transform="translate(520.94,153.6) rotate(-90)" text-anchor="end" font-size="7.1">D17</text><text transform="translate(527.71,153.6) rotate(-90)" text-anchor="end" font-size="7.1">D3</text><text transform="translate(534.49,153.6) rotate(-90)" text-anchor="end" font-size="7.1">D18</text><text transform="translate(541.27,153.6) rotate(-90)" text-anchor="end" font-size="7.1">D8</text><text transform="translate(548.04,153.6) rotate(-90)" text-anchor="end" font-size="7.1">D16</text><text transform="translate(554.82,153.6) rotate(-90)" text-anchor="end" font-size="7.1">D15</text><text transform="translate(561.59,153.6) rotate(-90)" text-anchor="end" font-size="7.1">D4</text><text transform="translate(568.37,153.6) rotate(-90)" text-anchor="end" font-size="7.1">C7</text><text transform="translate(575.15,153.6) rotate(-90)" text-anchor="end" font-size="7.1">D11</text><text transform="translate(581.92,153.6) rotate(-90)" text-anchor="end" font-size="7.1">D13</text><text transform="translate(588.70,153.6) rotate(-90)" text-anchor="end" font-size="7.1">D12</text><text transform="translate(595.47,153.6) rotate(-90)" text-anchor="end" font-size="7.1">C2</text><text transform="translate(602.25,153.6) rotate(-90)" text-anchor="end" font-size="7.1">S19</text><text transform="translate(609.03,153.6) rotate(-90)" text-anchor="end" font-size="7.1">D2</text><text transform="translate(615.80,153.6) rotate(-90)" text-anchor="end" font-size="7.1">D7</text><text transform="translate(622.58,153.6) rotate(-90)" text-anchor="end" font-size="7.1">S1</text><text transform="translate(629.36,153.6) rotate(-90)" text-anchor="end" font-size="7.1">S18</text><text transform="translate(636.13,153.6) rotate(-90)" text-anchor="end" font-size="7.1">S2</text><text transform="translate(642.91,153.6) rotate(-90)" text-anchor="end" font-size="7.1">S3</text><text transform="translate(649.68,153.6) rotate(-90)" text-anchor="end" font-size="7.1">D5</text><text transform="translate(656.46,153.6) rotate(-90)" text-anchor="end" font-size="7.1">D20</text><text transform="translate(663.24,153.6) rotate(-90)" text-anchor="end" font-size="7.1">D1</text><text transform="translate(670.01,153.6) rotate(-90)" text-anchor="end" font-size="7.1">D9</text></g><rect x="28.6" y="21.2" width="10.3" height="4.9" fill="#ff0000"/><rect x="8.2" y="50.8" width="10.3" height="4.9" fill="#7030a0"/><rect x="37.1" y="61.0" width="10.3" height="4.9" fill="#0000ff"/><rect x="5.0" y="111.0" width="10.3" height="4.9" fill="#32cd32"/><defs><linearGradient id="cb" x1="0" y1="0" x2="0" y2="1"><stop offset="0.000" stop-color="#b40426"/><stop offset="0.050" stop-color="#c53334"/><stop offset="0.100" stop-color="#d65244"/><stop offset="0.150" stop-color="#e36c55"/><stop offset="0.200" stop-color="#ee8468"/><stop offset="0.250" stop-color="#f4987a"/><stop offset="0.300" stop-color="#f7ac8e"/><stop offset="0.350" stop-color="#f6bda2"/><stop offset="0.400" stop-color="#f2cbb7"/><stop offset="0.450" stop-color="#e9d5cb"/><stop offset="0.500" stop-color="#dddcdc"/><stop offset="0.550" stop-color="#cfdaea"/><stop offset="0.600" stop-color="#c0d4f5"/><stop offset="0.650" stop-color="#afcafc"/><stop offset="0.700" stop-color="#9ebeff"/><stop offset="0.750" stop-color="#8db0fe"/><stop offset="0.800" stop-color="#7b9ff9"/><stop offset="0.850" stop-color="#6a8bef"/><stop offset="0.900" stop-color="#5977e3"/><stop offset="0.950" stop-color="#4961d2"/><stop offset="1.000" stop-color="#3b4cc0"/></linearGradient></defs><rect x="677" y="94" width="6" height="48" fill="url(#cb)"/><text x="674.3" y="91" font-size="6.8" fill="#222">1.0</text><text x="673.0" y="148.3" font-size="6.8" fill="#222">-1.0</text><text x="17.9" y="192.2" font-size="10" textLength="212.8" lengthAdjust="spacingAndGlyphs" fill="#111">Selected CTM and Flow Cytometry Correlations</text><text x="0.9" y="208.2" font-size="10" fill="#111">(b)</text><rect x="31.0" y="199.3" width="22.40" height="11.6" fill="#ff0000"/><line x1="37.1" y1="221.3" x2="157.5" y2="335.6" stroke="#b0b0b0" stroke-width="0.7" stroke-dasharray="2.2,1.4"/><circle cx="89.0" cy="295.7" r="3.0" fill="rgba(0,0,255,0.55)"/><circle cx="115.7" cy="303.9" r="3.0" fill="rgba(0,0,255,0.55)"/><circle cx="117.3" cy="304.9" r="3.0" fill="rgba(0,0,255,0.55)"/><circle cx="122.4" cy="302.8" r="3.0" fill="rgba(0,0,255,0.55)"/><circle cx="111.2" cy="316.0" r="3.0" fill="rgba(0,0,255,0.55)"/><circle cx="122.9" cy="324.0" r="3.0" fill="rgba(0,0,255,0.55)"/><circle cx="145.4" cy="324.2" r="3.0" fill="rgba(0,0,255,0.55)"/><circle cx="155.1" cy="319.5" r="3.0" fill="rgba(0,0,255,0.55)"/><circle cx="157.3" cy="315.0" r="3.0" fill="rgba(0,0,255,0.55)"/><circle cx="37.0" cy="232.0" r="3.0" fill="rgba(255,0,0,0.55)"/><circle cx="49.0" cy="228.3" r="3.0" fill="rgba(255,0,0,0.55)"/><circle cx="51.2" cy="237.5" r="3.0" fill="rgba(255,0,0,0.55)"/><circle cx="64.3" cy="238.4" r="3.0" fill="rgba(255,0,0,0.55)"/><circle cx="68.2" cy="234.0" r="3.0" fill="rgba(255,0,0,0.55)"/><circle cx="69.3" cy="241.0" r="3.0" fill="rgba(255,0,0,0.55)"/><circle cx="72.8" cy="241.0" r="3.0" fill="rgba(255,0,0,0.55)"/><circle cx="76.2" cy="243.8" r="3.0" fill="rgba(255,0,0,0.55)"/><circle cx="66.6" cy="249.5" r="3.0" fill="rgba(255,0,0,0.55)"/><rect x="31.4" y="215.4" width="132.00" height="126.00" fill="none" stroke="#4d4d4d" stroke-width="0.9"/><text x="26.40" y="338.40" font-size="6.6" text-anchor="end" textLength="10.68" lengthAdjust="spacingAndGlyphs" fill="#262626">0.4</text><text x="26.40" y="314.30" font-size="6.6" text-anchor="end" textLength="10.68" lengthAdjust="spacingAndGlyphs" fill="#262626">0.5</text><text x="26.40" y="290.20" font-size="6.6" text-anchor="end" textLength="10.68" lengthAdjust="spacingAndGlyphs" fill="#262626">0.6</text><text x="26.40" y="266.10" font-size="6.6" text-anchor="end" textLength="10.68" lengthAdjust="spacingAndGlyphs" fill="#262626">0.7</text><text x="26.40" y="242.00" font-size="6.6" text-anchor="end" textLength="10.68" lengthAdjust="spacingAndGlyphs" fill="#262626">0.8</text><text x="40.45" y="351.30" font-size="6.6" text-anchor="middle" textLength="14.75" lengthAdjust="spacingAndGlyphs" fill="#262626">6.75</text><text x="67.4" y="351.30" font-size="6.6" text-anchor="middle" textLength="14.75" lengthAdjust="spacingAndGlyphs" fill="#262626">7.00</text><text x="94.35" y="351.30" font-size="6.6" text-anchor="middle" textLength="14.75" lengthAdjust="spacingAndGlyphs" fill="#262626">7.25</text><text x="121.3" y="351.30" font-size="6.6" text-anchor="middle" textLength="14.75" lengthAdjust="spacingAndGlyphs" fill="#262626">7.50</text><text x="148.25" y="351.30" font-size="6.6" text-anchor="middle" textLength="14.75" lengthAdjust="spacingAndGlyphs" fill="#262626">7.75</text><path d="M29.0 335.7H31.4M29.0 311.6H31.4M29.0 287.5H31.4M29.0 263.4H31.4M29.0 239.3H31.4M40.45 341.4V343.79999999999995M67.4 341.4V343.79999999999995M94.35 341.4V343.79999999999995M121.3 341.4V343.79999999999995M148.25 341.4V343.79999999999995" stroke="#4d4d4d" stroke-width="0.8"/><text x="112.9" y="224.8" font-size="6.5" textLength="24.90" lengthAdjust="spacingAndGlyphs" fill="#1a1a1a">ρ = 0.93</text><text x="112.9" y="233.8" font-size="6.5" textLength="39.27" lengthAdjust="spacingAndGlyphs" fill="#1a1a1a">(p = 2.0 x 10</text><text x="152.37" y="231.30" font-size="4.6" textLength="3.9" lengthAdjust="spacingAndGlyphs" fill="#1a1a1a">-9</text><text x="156.57" y="233.8" font-size="6.5" fill="#1a1a1a">)</text><rect x="36.6" y="308.8" width="42.30" height="26.80" rx="1.6" fill="#fff" stroke="#44557a" stroke-width="1"/><circle cx="46.0" cy="317.1" r="4.0" fill="rgba(0,0,255,0.55)"/><circle cx="46.0" cy="328.1" r="4.0" fill="rgba(255,0,0,0.55)"/><text x="54.20" y="319.70" font-size="6.8" textLength="18.90" lengthAdjust="spacingAndGlyphs" fill="#262626">Breez</text><text x="54.20" y="330.70" font-size="6.8" textLength="17.49" lengthAdjust="spacingAndGlyphs" fill="#262626">GRex</text><text transform="translate(12.6,272.95) rotate(-90)" text-anchor="middle" font-size="10.4" fill="#111" textLength="48.0" lengthAdjust="spacingAndGlyphs">CD127+ %</text><text x="34.8" y="364.2" font-size="10" fill="#111"><tspan font-weight="bold">S12:</tspan> Mean of H<tspan font-size="6.3" dy="2.4">1</tspan><tspan dy="-2.4"> </tspan>&amp; H<tspan font-size="6.3" dy="2.4">2</tspan><tspan dy="-2.4"> </tspan>(μm)</text><text x="175.1" y="208.2" font-size="10" fill="#111">(c)</text><rect x="205.9" y="199.3" width="22.10" height="11.6" fill="#7030a0"/><line x1="211.3" y1="335.6" x2="330.5" y2="252.3" stroke="#b0b0b0" stroke-width="0.7" stroke-dasharray="2.2,1.4"/><circle cx="211.0" cy="320.1" r="3.0" fill="rgba(0,0,255,0.55)"/><circle cx="219.2" cy="315.4" r="3.0" fill="rgba(0,0,255,0.55)"/><circle cx="240.2" cy="317.8" r="3.0" fill="rgba(0,0,255,0.55)"/><circle cx="248.1" cy="295.9" r="3.0" fill="rgba(0,0,255,0.55)"/><circle cx="274.7" cy="302.3" r="3.0" fill="rgba(0,0,255,0.55)"/><circle cx="282.5" cy="297.4" r="3.0" fill="rgba(0,0,255,0.55)"/><circle cx="291.9" cy="281.3" r="3.0" fill="rgba(0,0,255,0.55)"/><circle cx="298.3" cy="284.8" r="3.0" fill="rgba(0,0,255,0.55)"/><circle cx="306.5" cy="281.9" r="3.0" fill="rgba(0,0,255,0.55)"/><circle cx="251.3" cy="316.0" r="3.0" fill="rgba(255,0,0,0.55)"/><circle cx="260.9" cy="311.9" r="3.0" fill="rgba(255,0,0,0.55)"/><circle cx="267.4" cy="311.1" r="3.0" fill="rgba(255,0,0,0.55)"/><circle cx="298.3" cy="281.9" r="3.0" fill="rgba(255,0,0,0.55)"/><circle cx="313.2" cy="282.5" r="3.0" fill="rgba(255,0,0,0.55)"/><circle cx="321.5" cy="264.9" r="3.0" fill="rgba(255,0,0,0.55)"/><circle cx="318.5" cy="221.4" r="3.0" fill="rgba(255,0,0,0.55)"/><circle cx="329.6" cy="224.3" r="3.0" fill="rgba(255,0,0,0.55)"/><circle cx="331.5" cy="245.5" r="3.0" fill="rgba(255,0,0,0.55)"/><rect x="205.5" y="215.5" width="131.80" height="125.90" fill="none" stroke="#4d4d4d" stroke-width="0.9"/><text x="200.50" y="335.00" font-size="6.6" text-anchor="end" textLength="10.68" lengthAdjust="spacingAndGlyphs" fill="#262626">0.4</text><text x="200.50" y="319.00" font-size="6.6" text-anchor="end" textLength="10.68" lengthAdjust="spacingAndGlyphs" fill="#262626">0.6</text><text x="200.50" y="303.00" font-size="6.6" text-anchor="end" textLength="10.68" lengthAdjust="spacingAndGlyphs" fill="#262626">0.8</text><text x="200.50" y="287.00" font-size="6.6" text-anchor="end" textLength="10.68" lengthAdjust="spacingAndGlyphs" fill="#262626">1.0</text><text x="200.50" y="271.00" font-size="6.6" text-anchor="end" textLength="10.68" lengthAdjust="spacingAndGlyphs" fill="#262626">1.2</text><text x="200.50" y="255.00" font-size="6.6" text-anchor="end" textLength="10.68" lengthAdjust="spacingAndGlyphs" fill="#262626">1.4</text><text x="200.50" y="239.00" font-size="6.6" text-anchor="end" textLength="10.68" lengthAdjust="spacingAndGlyphs" fill="#262626">1.6</text><text x="200.50" y="223.00" font-size="6.6" text-anchor="end" textLength="10.68" lengthAdjust="spacingAndGlyphs" fill="#262626">1.8</text><text x="242.5" y="351.30" font-size="6.6" text-anchor="middle" textLength="8.64" lengthAdjust="spacingAndGlyphs" fill="#262626">50</text><text x="284.05" y="351.30" font-size="6.6" text-anchor="middle" textLength="8.64" lengthAdjust="spacingAndGlyphs" fill="#262626">60</text><text x="325.6" y="351.30" font-size="6.6" text-anchor="middle" textLength="8.64" lengthAdjust="spacingAndGlyphs" fill="#262626">70</text><path d="M203.1 332.3H205.5M203.1 316.3H205.5M203.1 300.3H205.5M203.1 284.3H205.5M203.1 268.3H205.5M203.1 252.3H205.5M203.1 236.3H205.5M203.1 220.3H205.5M242.5 341.4V343.79999999999995M284.05 341.4V343.79999999999995M325.6 341.4V343.79999999999995" stroke="#4d4d4d" stroke-width="0.8"/><text x="212.0" y="225.7" font-size="6.5" textLength="24.90" lengthAdjust="spacingAndGlyphs" fill="#1a1a1a">ρ = 0.85</text><text x="212.0" y="234.4" font-size="6.5" textLength="39.27" lengthAdjust="spacingAndGlyphs" fill="#1a1a1a">(p = 7.6 x 10</text><text x="251.47" y="231.90" font-size="4.6" textLength="3.9" lengthAdjust="spacingAndGlyphs" fill="#1a1a1a">-6</text><text x="255.67" y="234.4" font-size="6.5" fill="#1a1a1a">)</text><rect x="290.1" y="309.6" width="42.00" height="27.20" rx="1.6" fill="#fff" stroke="#44557a" stroke-width="1"/><circle cx="299.5" cy="317.90000000000003" r="4.0" fill="rgba(0,0,255,0.55)"/><circle cx="299.5" cy="328.90000000000003" r="4.0" fill="rgba(255,0,0,0.55)"/><text x="307.70" y="320.50" font-size="6.8" textLength="18.90" lengthAdjust="spacingAndGlyphs" fill="#262626">Breez</text><text x="307.70" y="331.50" font-size="6.8" textLength="17.49" lengthAdjust="spacingAndGlyphs" fill="#262626">GRex</text><text transform="translate(187.0,276.35) rotate(-90)" text-anchor="middle" font-size="10.4" fill="#111" textLength="69.5" lengthAdjust="spacingAndGlyphs">CD4:CD8 Ratio</text><text x="218.6" y="364.2" font-size="10" fill="#111"><tspan font-weight="bold">S23:</tspan> Gated H<tspan font-size="6.3" dy="2.4">2</tspan><tspan dy="-2.4"> </tspan>bins (%)</text><text x="345.5" y="208.2" font-size="10" fill="#111">(d)</text><rect x="378.0" y="199.3" width="22.80" height="11.6" fill="#32cd32"/><line x1="384.4" y1="241.6" x2="499.7" y2="335.6" stroke="#b0b0b0" stroke-width="0.7" stroke-dasharray="2.2,1.4"/><circle cx="401.4" cy="225.9" r="3.0" fill="rgba(0,0,255,0.55)"/><circle cx="398.2" cy="237.9" r="3.0" fill="rgba(0,0,255,0.55)"/><circle cx="383.7" cy="244.3" r="3.0" fill="rgba(0,0,255,0.55)"/><circle cx="392.3" cy="244.3" r="3.0" fill="rgba(0,0,255,0.55)"/><circle cx="398.7" cy="251.1" r="3.0" fill="rgba(0,0,255,0.55)"/><circle cx="404.4" cy="271.7" r="3.0" fill="rgba(0,0,255,0.55)"/><circle cx="424.5" cy="307.6" r="3.0" fill="rgba(0,0,255,0.55)"/><circle cx="462.0" cy="309.2" r="3.0" fill="rgba(0,0,255,0.55)"/><circle cx="500.3" cy="328.3" r="3.0" fill="rgba(0,0,255,0.55)"/><circle cx="401.9" cy="221.5" r="3.0" fill="rgba(255,0,0,0.55)"/><circle cx="399.3" cy="273.6" r="3.0" fill="rgba(255,0,0,0.55)"/><circle cx="410.8" cy="273.9" r="3.0" fill="rgba(255,0,0,0.55)"/><circle cx="418.1" cy="272.9" r="3.0" fill="rgba(255,0,0,0.55)"/><circle cx="416.8" cy="283.8" r="3.0" fill="rgba(255,0,0,0.55)"/><circle cx="446.8" cy="259.9" r="3.0" fill="rgba(255,0,0,0.55)"/><circle cx="436.6" cy="298.4" r="3.0" fill="rgba(255,0,0,0.55)"/><circle cx="458.5" cy="290.8" r="3.0" fill="rgba(255,0,0,0.55)"/><circle cx="450.6" cy="314.6" r="3.0" fill="rgba(255,0,0,0.55)"/><rect x="378.25" y="216.4" width="128.15" height="125.90" fill="none" stroke="#4d4d4d" stroke-width="0.9"/><text x="373.25" y="333.30" font-size="6.6" text-anchor="end" textLength="14.75" lengthAdjust="spacingAndGlyphs" fill="#262626">0.60</text><text x="373.25" y="316.28" font-size="6.6" text-anchor="end" textLength="14.75" lengthAdjust="spacingAndGlyphs" fill="#262626">0.62</text><text x="373.25" y="299.26" font-size="6.6" text-anchor="end" textLength="14.75" lengthAdjust="spacingAndGlyphs" fill="#262626">0.64</text><text x="373.25" y="282.25" font-size="6.6" text-anchor="end" textLength="14.75" lengthAdjust="spacingAndGlyphs" fill="#262626">0.66</text><text x="373.25" y="265.23" font-size="6.6" text-anchor="end" textLength="14.75" lengthAdjust="spacingAndGlyphs" fill="#262626">0.68</text><text x="373.25" y="248.22" font-size="6.6" text-anchor="end" textLength="14.75" lengthAdjust="spacingAndGlyphs" fill="#262626">0.70</text><text x="373.25" y="231.20" font-size="6.6" text-anchor="end" textLength="14.75" lengthAdjust="spacingAndGlyphs" fill="#262626">0.72</text><text x="400.9" y="352.20" font-size="6.6" text-anchor="middle" textLength="8.64" lengthAdjust="spacingAndGlyphs" fill="#262626">50</text><text x="424.46" y="352.20" font-size="6.6" text-anchor="middle" textLength="8.64" lengthAdjust="spacingAndGlyphs" fill="#262626">75</text><text x="448.02" y="352.20" font-size="6.6" text-anchor="middle" textLength="12.72" lengthAdjust="spacingAndGlyphs" fill="#262626">100</text><text x="471.58" y="352.20" font-size="6.6" text-anchor="middle" textLength="12.72" lengthAdjust="spacingAndGlyphs" fill="#262626">125</text><text x="495.14" y="352.20" font-size="6.6" text-anchor="middle" textLength="12.72" lengthAdjust="spacingAndGlyphs" fill="#262626">150</text><path d="M375.85 330.6H378.25M375.85 313.58H378.25M375.85 296.56H378.25M375.85 279.55H378.25M375.85 262.53H378.25M375.85 245.52H378.25M375.85 228.5H378.25M400.9 342.3V344.7M424.46 342.3V344.7M448.02 342.3V344.7M471.58 342.3V344.7M495.14 342.3V344.7" stroke="#4d4d4d" stroke-width="0.8"/><text x="455.0" y="225.7" font-size="6.5" textLength="24.90" lengthAdjust="spacingAndGlyphs" fill="#1a1a1a">ρ = 0.79</text><text x="455.0" y="234.4" font-size="6.5" textLength="39.27" lengthAdjust="spacingAndGlyphs" fill="#1a1a1a">(p = 8.1 x 10</text><text x="494.47" y="231.90" font-size="4.6" textLength="3.9" lengthAdjust="spacingAndGlyphs" fill="#1a1a1a">-5</text><text x="498.67" y="234.4" font-size="6.5" fill="#1a1a1a">)</text><rect x="380.2" y="310.5" width="41.70" height="27.20" rx="1.6" fill="#fff" stroke="#44557a" stroke-width="1"/><circle cx="389.59999999999997" cy="318.8" r="4.0" fill="rgba(0,0,255,0.55)"/><circle cx="389.59999999999997" cy="329.8" r="4.0" fill="rgba(255,0,0,0.55)"/><text x="397.80" y="321.40" font-size="6.8" textLength="18.90" lengthAdjust="spacingAndGlyphs" fill="#262626">Breez</text><text x="397.80" y="332.40" font-size="6.8" textLength="17.49" lengthAdjust="spacingAndGlyphs" fill="#262626">GRex</text><text transform="translate(354.6,276.1) rotate(-90)" text-anchor="middle" font-size="10.4" fill="#111" textLength="31.5" lengthAdjust="spacingAndGlyphs">CAR %</text><text x="362.4" y="364.2" font-size="10" fill="#111"><tspan font-weight="bold">C15:</tspan> KL-Divergence H<tspan font-size="6.3" dy="2.4">2</tspan><tspan dy="-2.4"> </tspan>(arb. unit)</text><text x="520.4" y="208.2" font-size="10" fill="#111">(e)</text><rect x="553.3" y="199.3" width="23.30" height="11.6" fill="#0000ff"/><line x1="559.1" y1="336.7" x2="667.0" y2="222.3" stroke="#b0b0b0" stroke-width="0.7" stroke-dasharray="2.2,1.4"/><circle cx="611.4" cy="264.6" r="3.0" fill="rgba(0,0,255,0.55)"/><circle cx="606.3" cy="276.8" r="3.0" fill="rgba(0,0,255,0.55)"/><circle cx="614.6" cy="275.2" r="3.0" fill="rgba(0,0,255,0.55)"/><circle cx="616.5" cy="271.7" r="3.0" fill="rgba(0,0,255,0.55)"/><circle cx="621.9" cy="276.8" r="3.0" fill="rgba(0,0,255,0.55)"/><circle cx="633.7" cy="257.0" r="3.0" fill="rgba(0,0,255,0.55)"/><circle cx="635.6" cy="272.9" r="3.0" fill="rgba(0,0,255,0.55)"/><circle cx="668.1" cy="222.3" r="3.0" fill="rgba(0,0,255,0.55)"/><circle cx="613.6" cy="239.7" r="3.0" fill="rgba(0,0,255,0.55)"/><circle cx="559.5" cy="322.3" r="3.0" fill="rgba(255,0,0,0.55)"/><circle cx="569.1" cy="323.6" r="3.0" fill="rgba(255,0,0,0.55)"/><circle cx="574.5" cy="331.2" r="3.0" fill="rgba(255,0,0,0.55)"/><circle cx="579.3" cy="311.1" r="3.0" fill="rgba(255,0,0,0.55)"/><circle cx="579.3" cy="313.7" r="3.0" fill="rgba(255,0,0,0.55)"/><circle cx="590.7" cy="307.6" r="3.0" fill="rgba(255,0,0,0.55)"/><circle cx="601.2" cy="308.6" r="3.0" fill="rgba(255,0,0,0.55)"/><circle cx="592.6" cy="320.7" r="3.0" fill="rgba(255,0,0,0.55)"/><circle cx="592.0" cy="322.3" r="3.0" fill="rgba(255,0,0,0.55)"/><rect x="554.3" y="216.5" width="119.20" height="125.50" fill="none" stroke="#4d4d4d" stroke-width="0.9"/><text x="549.30" y="344.00" font-size="6.6" text-anchor="end" textLength="18.82" lengthAdjust="spacingAndGlyphs" fill="#262626">0.002</text><text x="549.30" y="319.24" font-size="6.6" text-anchor="end" textLength="18.82" lengthAdjust="spacingAndGlyphs" fill="#262626">0.004</text><text x="549.30" y="294.48" font-size="6.6" text-anchor="end" textLength="18.82" lengthAdjust="spacingAndGlyphs" fill="#262626">0.006</text><text x="549.30" y="269.72" font-size="6.6" text-anchor="end" textLength="18.82" lengthAdjust="spacingAndGlyphs" fill="#262626">0.008</text><text x="549.30" y="244.96" font-size="6.6" text-anchor="end" textLength="18.82" lengthAdjust="spacingAndGlyphs" fill="#262626">0.010</text><text x="549.30" y="220.20" font-size="6.6" text-anchor="end" textLength="18.82" lengthAdjust="spacingAndGlyphs" fill="#262626">0.012</text><text x="575.65" y="351.90" font-size="6.6" text-anchor="middle" textLength="14.75" lengthAdjust="spacingAndGlyphs" fill="#262626">6.75</text><text x="599.5" y="351.90" font-size="6.6" text-anchor="middle" textLength="14.75" lengthAdjust="spacingAndGlyphs" fill="#262626">7.00</text><text x="623.35" y="351.90" font-size="6.6" text-anchor="middle" textLength="14.75" lengthAdjust="spacingAndGlyphs" fill="#262626">7.25</text><text x="647.2" y="351.90" font-size="6.6" text-anchor="middle" textLength="14.75" lengthAdjust="spacingAndGlyphs" fill="#262626">7.50</text><text x="671.05" y="351.90" font-size="6.6" text-anchor="middle" textLength="14.75" lengthAdjust="spacingAndGlyphs" fill="#262626">7.75</text><path d="M551.9 341.3H554.3M551.9 316.54H554.3M551.9 291.78H554.3M551.9 267.02H554.3M551.9 242.26H554.3M551.9 217.5H554.3M575.65 342.0V344.4M599.5 342.0V344.4M623.35 342.0V344.4M647.2 342.0V344.4M671.05 342.0V344.4" stroke="#4d4d4d" stroke-width="0.8"/><text x="557.9" y="225.1" font-size="6.5" textLength="24.90" lengthAdjust="spacingAndGlyphs" fill="#1a1a1a">ρ = 0.89</text><text x="557.9" y="233.8" font-size="6.5" textLength="39.27" lengthAdjust="spacingAndGlyphs" fill="#1a1a1a">(p = 1.0 x 10</text><text x="597.37" y="231.30" font-size="4.6" textLength="3.9" lengthAdjust="spacingAndGlyphs" fill="#1a1a1a">-6</text><text x="601.57" y="233.8" font-size="6.5" fill="#1a1a1a">)</text><rect x="626.4" y="309.2" width="41.70" height="27.10" rx="1.6" fill="#fff" stroke="#44557a" stroke-width="1"/><circle cx="635.8" cy="317.5" r="4.0" fill="rgba(0,0,255,0.55)"/><circle cx="635.8" cy="328.5" r="4.0" fill="rgba(255,0,0,0.55)"/><text x="644.00" y="320.10" font-size="6.8" textLength="18.90" lengthAdjust="spacingAndGlyphs" fill="#262626">Breez</text><text x="644.00" y="331.10" font-size="6.8" textLength="17.49" lengthAdjust="spacingAndGlyphs" fill="#262626">GRex</text><text transform="translate(525.3,276.2) rotate(-90)" text-anchor="middle" font-size="10.4" fill="#111" textLength="35.9" lengthAdjust="spacingAndGlyphs">PD1+ %</text><text x="570.6" y="364.2" font-size="10" fill="#111"><tspan font-weight="bold">S16:</tspan> Mean H<tspan font-size="6.3" dy="2.4">2</tspan><tspan dy="-2.4"> </tspan>(μm)</text></svg></body></html>
